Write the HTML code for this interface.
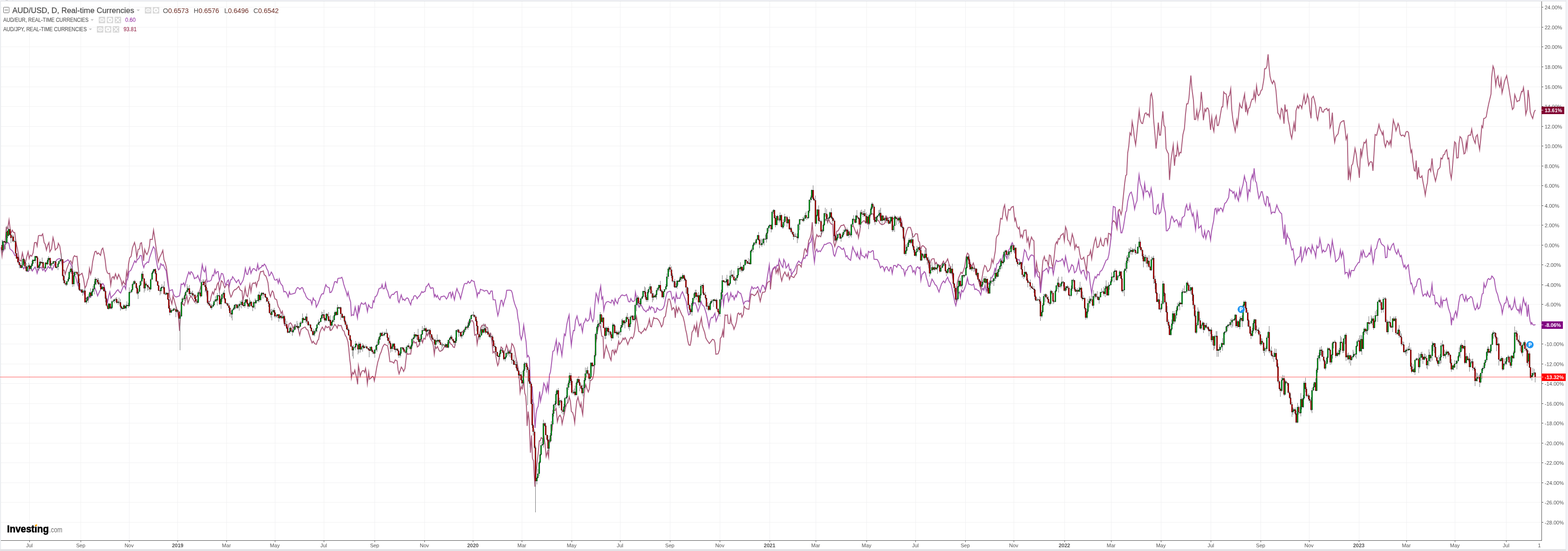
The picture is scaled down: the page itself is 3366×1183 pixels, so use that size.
<!DOCTYPE html>
<html><head><meta charset="utf-8"><title>AUD/USD chart</title>
<style>html,body{margin:0;padding:0;background:#fff;width:3366px;height:1183px;overflow:hidden}</style></head>
<body>
<svg width="3366" height="1183" viewBox="0 0 3366 1183" style="position:absolute;left:0;top:0;font-family:'Liberation Sans',Arial,sans-serif">
<rect width="3366" height="1183" fill="#fff"/>
<rect x="0" y="0" width="3366" height="2" fill="#f0f1f5"/>
<rect x="0" y="2" width="3366" height="0.9" fill="#d9dce0"/>
<rect x="0" y="0" width="1.3" height="1183" fill="#f5f6f9"/>
<rect x="1.2" y="2" width="0.8" height="1177" fill="#d8dce0"/>
<rect x="0" y="1179" width="3361" height="4" fill="#e3e3e6"/>
<rect x="3361" y="0" width="0.9" height="1183" fill="#dde0e5"/>
<rect x="3361.9" y="0" width="4.1" height="1183" fill="#f2f3f7"/>
<rect x="12" y="0" width="5" height="1" fill="#c0c0c4"/>
<rect x="27.2" y="0" width="0.8" height="2" fill="#d8dce0"/>
<path d="M2 1121.5H3308M2 1078.5H3308M2 1036.5H3308M2 993.5H3308M2 951.5H3308M2 908.5H3308M2 866.5H3308M2 823.5H3308M2 781.5H3308M2 738.5H3308M2 696.5H3308M2 653.5H3308M2 611.5H3308M2 568.5H3308M2 526.5H3308M2 483.5H3308M2 441.5H3308M2 398.5H3308M2 356.5H3308M2 313.5H3308M2 271.5H3308M2 228.5H3308M2 186.5H3308M2 143.5H3308M2 100.5H3308M2 58.5H3308M2 15.5H3308M63.5 3V1160M173.5 3V1160M277.5 3V1160M381.5 3V1160M486.5 3V1160M590.5 3V1160M695.5 3V1160M804.5 3V1160M911.5 3V1160M1015.5 3V1160M1120.5 3V1160M1227.5 3V1160M1331.5 3V1160M1438.5 3V1160M1545.5 3V1160M1652.5 3V1160M1751.5 3V1160M1860.5 3V1160M1965.5 3V1160M2072.5 3V1160M2176.5 3V1160M2285.5 3V1160M2385.5 3V1160M2492.5 3V1160M2599.5 3V1160M2706.5 3V1160M2810.5 3V1160M2917.5 3V1160M3019.5 3V1160M3123.5 3V1160M3233.5 3V1160" stroke="#f1f1f2" stroke-width="1" fill="none" shape-rendering="crispEdges"/>
<polyline points="2.4,530.8 4.4,549 7.3,523.5 10.2,533.2 13.4,488.2 16.5,490.7 19.4,472.4 23.1,501.6 26.3,494.3 29.2,499.2 31.6,499.2 34,518.6 37.7,535.6 41.3,558.7 45,559.9 48.1,542.9 51,557.5 54,567.2 57.1,552.6 60.3,540.5 62.7,555.1 65.1,547.8 68.1,550.2 71,542.9 74.1,521 77.8,520.6 79.7,528.3 82.6,506 86.3,505.2 88.7,506.5 91.6,502.1 94.8,521 96.7,523.5 99.7,536.8 102.1,527.1 105,521 107,540.5 110.6,534.4 113.8,510.1 116.2,519.8 118.6,536.8 121.5,533.2 123.5,532 125.2,522.3 128.3,528.3 131.3,547.8 133.2,566 134.9,579.4 138.1,580.6 139.8,589.1 143.4,577 145.8,570.9 149.5,561.2 151.9,559.9 155.1,567.2 157.5,552.6 159.9,549 162.4,550.9 165.3,550.2 167.2,569.7 169.7,591.5 173.1,589.1 176.2,586.7 179.4,598.8 182.3,618.3 185.2,613.4 187.7,602.5 190.1,596.4 192,577 194.5,589.1 196.4,581.8 198.8,562.4 201.3,550.2 203.7,540.5 206.1,539.3 208.6,545.4 211,542.9 213.4,545.4 215.8,548.3 218.3,535.6 220.7,532.7 223.1,542.9 225.6,557.5 228,578.2 230.4,585.5 232.9,587.9 235.3,586.7 237.7,612.2 240.2,596.4 243.1,594 245,598.8 247.9,587.9 251.6,598.8 254.7,589.1 257.7,596.4 260.1,602.5 262,612.2 264.5,603.7 266.9,608.6 269.3,611 271.8,583 274.2,596.4 275.9,567.2 278.3,553.9 281.5,550.2 284.4,532 288.8,520.6 291.2,530.8 293.6,552.6 296.5,535.6 299.5,534.4 301.4,522.3 303.8,521 306.3,540.5 308.2,559.9 310.6,535.6 313.1,542.9 315.5,546.6 318.4,539.3 320.9,528.3 322.3,513.8 326.9,514.2 329.6,494.3 331.8,508.9 334.2,525.9 336.7,542.9 339.8,562.4 342.7,552.6 346.4,545.4 349.5,537.6 352,557.5 354.9,564.8 357.3,574.5 359.7,594 362.2,615.8 364.1,637.7 366.6,645 369,652.3 371.4,635.3 374.3,645 376.8,654.7 379.2,662 381.6,671.8 383.6,683.9 385.5,710.4 387.5,676.6 389.9,654.7 391.8,651.1 395.2,656 398.6,643.8 401.1,635.3 403.5,651.1 407.1,640.2 410,635.5 418,648.7 420.6,639 427.7,628.4 431.2,614.3 438.3,608.1 441.5,601.9 443.9,631.9 446.2,646.1 449.3,648.2 451.5,646.1 453.3,636.4 456.3,626.6 458.6,631.9 461.3,620.4 463.4,622.2 466.2,610.7 468.7,606.3 471,624.9 472.8,617.8 475.1,602.8 478.1,605.4 480.4,612.5 482.5,617.8 485.7,611.6 487.8,611.1 490.4,611.6 492.2,626.6 495.7,637.8 498,633.7 500.2,626.6 503.4,622.2 506.4,621.3 509,618.7 512.5,614.6 515.2,622.2 517.9,624 519.6,624.5 521.4,646.1 524,631.9 526.3,617.8 528.8,633.7 531.6,637.2 534.1,623.1 536.4,610.7 538.7,626.6 541.2,610.7 543.5,607.5 546.1,608.6 548.3,606.3 550.6,615.1 552.9,604.5 555.3,601.9 557.1,591.3 559.4,583 562.4,583.3 565.2,581.5 567.4,590.4 570,591.6 572.3,596.6 575.3,607.2 577.1,624 578.3,630.2 580.6,636.9 582.9,628.4 584.7,624.5 586.8,627.5 588.6,636.4 590.3,641.7 593.9,643.4 595.6,651.4 597.4,658.5 600,662.2 603.6,673.2 606.1,668.3 608.5,685.3 610.9,698.7 615.1,699.9 618.2,704.8 620.7,695.1 623.8,693.1 626.7,697.5 629.2,706 632.8,697.5 636.5,701.1 640.1,706 643.3,719.4 646.2,707.2 649.8,704.8 653,702.8 655.4,702.3 657.8,707.2 660.8,708.4 663.7,718.1 666.8,727.9 670,736.4 672.4,732.7 675.3,737.6 679,739.3 682.1,730.3 683.8,729.1 686.3,714.5 688.7,708.4 691.9,702.3 696,709.6 699.1,699.9 702.1,703.6 706.4,701.1 708.9,709.6 711.8,708.4 715.4,702.3 718.6,696.3 721.5,699.9 723.9,704.8 725.9,697.5 728.8,699.4 732.4,698.7 735.6,708.4 738.5,710.9 740.9,719.4 743.9,724.2 747,733.9 748.7,748.5 750.7,770.4 752.6,785 754.3,811.7 756.7,799.6 759.2,803.2 761.6,794.7 764,804.4 766.5,816.6 767.7,825.1 769.4,785 771.3,794.7 773,808.1 775.5,799.6 777.9,795.9 781,795.9 782.7,799.6 784.7,791 786.6,802 788.6,823.9 791.5,799.6 793.2,814.1 796.4,811.7 799.3,808.1 801.7,809.3 803.6,817.8 806.1,804.4 808.5,789.8 810.9,777.7 813.9,768 815.8,760.7 818.2,755.8 821.1,746.1 823.6,741.2 826,738.8 828.9,741.2 832.1,742.4 834.5,755.8 836.9,776.5 840.1,776.5 843,777.7 845.4,779.6 848.4,772.8 850,773.4 852.5,775.1 854.6,794.4 856.7,802.8 859.4,794.4 861.5,788.1 864.3,792.3 866.4,797.5 869.3,791.2 871,776.5 873.1,757.6 875.6,760.8 878.3,759.7 881.5,760.4 883.6,747.1 885.7,738.7 888.2,732.4 890.9,736.6 893.7,734.5 895.8,745 898.7,742.9 901.4,733.5 904.2,726.1 907.1,735.6 909.8,726.1 912.6,728.2 915.5,715.6 917.6,720.9 920.3,712.5 922.4,723 925.2,729.3 928.1,733.5 930.2,741.9 932.3,760.8 934.4,744 936.5,748.2 939.2,744 942,751.3 944.5,754.5 947.6,752.8 950.4,751.3 952.9,746.1 955,742.9 957.5,746.1 960.2,745 962.3,739.8 965.1,733.5 967.6,738.7 970.1,739.8 972.8,745 975.6,746.1 978.1,733.5 980.2,710.4 984.4,712.5 988.6,714.6 994.9,710.4 1000.1,703 1003.3,704.1 1005.8,691.5 1008.5,691.1 1011.3,689 1014.2,688.3 1016.9,693.6 1019,719.8 1022.2,717.7 1024.3,738.7 1026.8,723 1029.5,718.8 1031.6,705.1 1034.4,698.8 1037.3,697.8 1040,698.8 1041.5,696.7 1043.6,703 1046.3,703 1048.4,714.6 1051.2,716.7 1053.3,715.6 1055.8,731.4 1058.3,757.6 1061,754.5 1063.8,760.8 1066.3,775.5 1068.4,784.9 1070.5,779.7 1072.6,758.7 1075.7,745 1078.5,748.2 1081,760.8 1083.5,753.4 1085.2,750.3 1087.3,740.8 1090,748.7 1092.2,756.5 1094.4,752.1 1096.2,757.6 1098.8,737.7 1101.5,741 1104.4,748.7 1107.7,768.6 1110.3,779.7 1112.5,792.9 1114.8,815 1116.5,842.7 1118.7,830.5 1121.4,834.9 1124.3,817.3 1126.5,843.8 1128.7,850.4 1130.2,874.7 1131.6,914.5 1133.8,883.6 1136,903.5 1138.7,971.9 1141,934.8 1142.9,983.5 1145.2,989.3 1146.8,1020.6 1148.5,1045 1150.8,1016 1153.1,992.8 1155.4,971.9 1157.7,946.4 1159.6,946.4 1161.9,939.4 1165.4,942.9 1167.7,937.1 1170,953.4 1172.4,980 1175.4,969.6 1177.7,981.2 1179.3,946.4 1181.6,937.1 1185.1,923.2 1188.4,879.2 1191.7,881.4 1193.9,876.9 1196.5,905.7 1199.4,894.6 1202.3,891.3 1204.9,896.8 1206.7,910.1 1209.4,896.8 1211.6,888 1214.2,874.7 1216.4,867 1219.3,864.8 1222,851.5 1224.4,861.5 1226.6,883.6 1229.3,885.8 1231.9,894.6 1233.7,907.9 1235.9,881.4 1238.1,861.5 1240.8,852.6 1243.6,865.9 1245.8,873.6 1247.4,865.9 1249.6,883.6 1250.9,890.2 1253.1,857 1255.3,834.9 1257.6,826.1 1260.2,834.9 1262.9,841.6 1265.1,834.9 1266.8,817.3 1269.5,816.2 1272.4,812.8 1274.6,801.8 1276.3,781.3 1278.5,741.5 1281.8,715 1286.2,695.1 1289.5,703.9 1291.8,721.6 1294.6,722.7 1296.2,770.2 1299,752.6 1301.3,741.5 1303.9,750.3 1307.2,759.2 1309.4,768 1311.7,773.6 1313.9,752.6 1316.1,751.4 1318.9,760.3 1320.5,751.4 1322.7,757 1325.6,747 1328.2,732.7 1330,739.3 1332.7,736 1335.3,731.5 1337.5,726 1339.7,729.3 1341.9,724.9 1344.8,730.4 1347.7,739.7 1350.3,732.7 1353,726 1355.2,723.8 1357.4,727.1 1360.3,721.6 1362.5,710.5 1364.7,688.4 1366.3,679.6 1368.5,692.9 1371.3,711.7 1374.2,712.8 1376.4,716.1 1379.1,711.7 1381.7,710.5 1383.5,705 1386.2,709.4 1389,702.8 1391.2,697.3 1394.1,685.1 1396.3,700.6 1398.5,701.7 1401.2,690.6 1403.4,681.8 1405.6,684 1408.9,683.6 1411.8,685.1 1414.5,688.4 1417.8,695.1 1420,701.8 1422.9,696.9 1425.3,682.3 1428.5,678.7 1430.9,662.9 1434.6,642.2 1437.5,642.2 1439.9,650.7 1442.4,665.3 1445.5,660.4 1448,664.1 1449.7,682.3 1451.6,659.2 1454.5,670.2 1456.9,660.4 1460.1,667.7 1463.8,676.2 1466.2,679.9 1468.6,689.6 1469.2,691.9 1471.9,707.7 1474,716.2 1476.5,732 1478.7,740.5 1481.6,741.5 1483.5,732 1485.6,713.2 1488.4,708.9 1490.5,699.2 1493.5,710.7 1495.7,694.9 1498.4,724.1 1500.2,705.3 1503,693.7 1505.7,682.2 1507.5,698.6 1510.5,707.7 1512.7,713.8 1515.1,725.3 1517.2,729.6 1522.7,737.5 1526.6,732.6 1529.4,728.4 1532.6,729.6 1534.8,735.7 1536.7,760.6 1541.5,759.7 1544.6,750.9 1546.4,726.5 1549.4,722.3 1551.6,710.1 1553.3,724.7 1554.9,698.6 1556.5,676.1 1558.5,677.1 1561.6,676.1 1563.4,694.3 1566.7,694.6 1568.6,679.1 1570.7,694.9 1573.5,699.2 1575.6,707.1 1578.8,698.6 1581,690.7 1583.5,673.6 1585.7,671.8 1587.4,675.5 1590.8,672.4 1592.6,680.9 1595.6,674.9 1597.4,657.5 1600.4,661.6 1603.5,663.3 1607.7,664.1 1610.1,644.6 1612.5,631.3 1616.4,632.5 1619.3,634.9 1623,631.3 1626.6,624 1629.5,636.1 1632,647.1 1634.4,636.1 1636.8,627.6 1640,627.6 1642.4,626.4 1644.8,616.7 1647.3,607 1650.4,604.5 1653.3,603.3 1653.8,621.5 1656.3,597.2 1658.7,580.2 1661.9,575.4 1664.3,572.9 1666,586.3 1669.1,577.8 1670.4,586.3 1672.8,570.5 1675.2,589.9 1678.1,603.3 1681.3,591.2 1684.9,583.9 1687.4,589.9 1689.8,593.6 1692.2,586.3 1694.7,599.7 1697.7,591.8 1700.7,594.1 1704.2,596 1707.7,589.5 1710,587.2 1711.7,570.9 1714.7,567.5 1717.7,569.8 1720,573.3 1721.6,561.7 1724.6,552.4 1727,536.1 1728.6,533.8 1731.6,540.8 1733.9,531.5 1736.2,516.4 1739,510.6 1741.3,502.5 1743.7,477 1745.5,508.3 1747.1,519.9 1748.8,535 1750.6,515.3 1753.4,503.7 1756.4,508.3 1758.7,506 1761.8,508.3 1764.5,499 1767.3,489.7 1769.6,478.1 1772,471.2 1775,472.3 1776.6,478.1 1778.9,470 1781.9,478.1 1785,481.6 1787.7,481.6 1789.6,518.7 1791.9,529.2 1794.2,522.2 1795.9,496.7 1799.3,495.5 1802.1,489.7 1805.8,483.9 1808.6,483.9 1811.4,482.3 1813.7,487.4 1815.6,492.1 1817.9,497.9 1822.5,503.7 1826,501.3 1828.3,487.4 1831.3,483.9 1833.7,489.7 1836.4,497.2 1838.8,502.5 1840.6,495.5 1842.9,510.6 1845.7,496.7 1847.6,479.3 1849.9,478.1 1852.7,474.7 1855.5,474 1858.5,479.3 1861.5,478.1 1864.3,481.6 1866.6,470 1868.9,459.6 1872.4,459.1 1874.7,459.6 1877,474.7 1880,466.5 1883.2,471.8 1886.6,474.5 1889.3,479.8 1893.3,482.4 1897.2,481.1 1900.7,477.1 1902.5,463.9 1906,469.2 1909.7,466.5 1914.5,470.5 1922.4,467.8 1929.1,469.2 1932.5,465.2 1935.7,474.5 1938.3,493 1941,519.6 1943.6,506.3 1946.3,495.7 1949.5,488.3 1954.3,488.3 1957.4,497 1959,508.9 1962.2,507.6 1965.4,501.5 1969.6,502.3 1971.5,516.9 1974.1,520.9 1976,538.1 1978.6,528.8 1981.3,527.5 1984.7,530.2 1987.4,534.1 1989.3,554 1991.9,556.7 1994,572.6 1996.7,564.6 1999.9,556.7 2002.5,555.4 2005.2,555.4 2007.3,567.3 2009.9,563.3 2012.6,569.9 2017.9,572.6 2021.9,567.3 2025.3,560.7 2028,567.3 2031.2,562 2034.3,555.9 2037,566 2039.6,572.6 2042.3,580.5 2044.4,591.2 2047.1,609.7 2049.7,625.6 2052.4,644.2 2053.7,625.6 2055,607.1 2057.7,596.5 2063,584.5 2065.6,587.2 2068.3,580.5 2070.9,572.6 2074.1,551.4 2076.8,543.4 2079.4,546.1 2082.1,562 2085.5,572.6 2089.5,564.6 2092.1,575.2 2095.3,589.8 2098,593.8 2101.4,605.7 2105.4,620.3 2108.1,596.5 2110.7,580.5 2113.9,569.9 2116.5,572.6 2120,583.2 2123.4,580.5 2126.6,573.9 2129.3,556.7 2131.9,564.6 2134,554 2136.7,538.1 2138.6,511.6 2140,507.3 2143.8,502.5 2148,468.9 2151.2,470.5 2154.4,446.5 2156.7,440.1 2159.2,462.5 2161.8,472.1 2165,449.7 2168.2,451.3 2171.4,444.9 2175.2,443.3 2178.4,473.7 2180.1,468.9 2183.3,486.5 2186.5,491.3 2188.1,488.1 2190.6,508.9 2192.9,504.1 2195.1,510.5 2198.3,494.5 2202.5,493.6 2204.7,518.6 2207.3,510.5 2209.8,531.4 2212.1,516.9 2214.3,508.9 2216.9,514.7 2219.5,516.9 2221.7,593.8 2224.9,563.4 2228.1,582.6 2231.3,585.8 2233.6,617.9 2236.1,592.2 2238.7,560.2 2241.9,550.6 2244.1,560.2 2247.3,558.6 2250.5,571.4 2252.8,547.4 2255.3,549 2257.9,566.6 2260.2,574.6 2263.4,547.4 2265.6,525 2268.2,519.2 2269.8,523.4 2272,512.1 2274.6,513.7 2277.1,505.7 2281,502.5 2282.6,500.9 2284.8,516.9 2287.4,487.2 2290,494.5 2292.2,515.3 2294.4,516.9 2297.6,526.6 2301.8,502.5 2305,513.7 2307.3,534.6 2309.8,525 2312.4,531.4 2315.6,529.8 2317.8,544.2 2320.1,555.4 2322.6,557 2326.5,552.2 2329.7,568.2 2332.2,582.6 2334.8,549 2338.7,547.4 2341.2,537.8 2343.5,555.4 2346.7,533 2349.9,516.9 2352.1,510.5 2355.3,531.4 2358.5,529.8 2362.7,512.1 2365.9,526.6 2369.1,528.2 2372.3,512.1 2375.5,511.5 2377.7,523.4 2379.7,500.9 2383.5,502.5 2385.1,508.9 2387.4,478.5 2390.6,473.7 2394.7,478.5 2397.9,491.3 2401.1,451.3 2403.4,449.7 2406.6,460.9 2408.5,452.9 2410.7,428.8 2413,406.4 2414.4,392.8 2416.7,376.8 2418.6,375.2 2420.8,328.7 2423.1,314.3 2425.6,285.4 2428.2,290.3 2430.4,261.4 2432.7,274.2 2435.3,296.7 2437.8,311.1 2440.1,290.3 2442.3,267.8 2445.5,237.4 2447.4,256.6 2450.6,264.6 2452.9,265.3 2455.1,255 2457.7,243.8 2460.3,242.2 2462.5,247 2464.7,244.7 2467.3,250.2 2469.9,205.3 2471.8,200.5 2474.4,214.9 2476.3,255 2479.5,290.3 2481.7,319.1 2484,296.7 2486.5,263 2489.1,290.3 2491.3,290.3 2493.6,267.8 2496.2,239 2498.7,269.4 2501,272.6 2503.2,319.1 2505.8,325.5 2508.3,330.3 2510.6,386.4 2513.8,343.1 2516,328.7 2518.6,311.1 2521.2,356 2523.4,333.5 2525.6,335.1 2527.6,309.5 2530.8,333.5 2533,327.1 2535.3,328.1 2537.2,309.5 2539.4,288.7 2542.6,275.8 2544.9,245.4 2547.4,222.9 2550,222.9 2552.2,211.7 2554.5,184.5 2556.4,162.1 2558.7,190.9 2561.9,214.9 2564.1,256.6 2566.7,256.6 2569.2,237.4 2571.5,255 2573.7,242.2 2576.3,234.2 2578.8,197.3 2581.1,221.3 2583.3,258.2 2586.5,234.2 2588.5,239 2590.7,231.9 2592.9,231.9 2594.9,237.4 2598.7,279 2601.3,251.8 2603.5,272.6 2605.8,282.2 2608.3,256.6 2610.9,248.6 2613.1,269.4 2615.4,269.4 2617.9,258.2 2620.5,242.2 2622.8,229.4 2625,229.4 2626.9,197.3 2629.2,200.5 2632.4,202.1 2634.6,227.8 2637.2,206.9 2639.4,205.3 2642,190.9 2644.2,235.8 2646.8,258.2 2649.4,271 2651.6,282.2 2654.8,258.2 2656.4,269.4 2659,245.4 2661.2,222.9 2663.5,229.4 2666,231.9 2668.6,216.5 2671.8,202.1 2674,240.6 2675.6,224.6 2678.2,243.8 2680.4,232.6 2682.7,231 2685.3,219.7 2687.8,212.7 2690.1,213.3 2692.3,197.3 2694.9,214.9 2697.4,184.5 2699.7,202.1 2701.9,205.3 2704.5,202.1 2707.1,194.1 2709.3,192.5 2711.5,179.7 2713.5,166.9 2714.7,147.6 2717.3,147.6 2719.9,141.2 2720.6,129.8 2722.2,116.6 2724.2,143.1 2726.5,164.6 2729.2,174.6 2731.5,179.6 2734.1,172.9 2736.5,177.9 2739.1,194.5 2741.4,222.7 2743.1,242.5 2745.7,245.9 2748.1,254.1 2750.7,232.6 2753,235.9 2756.4,265.7 2758.3,224.3 2760.3,239.2 2763,235.9 2765.6,259.1 2768,269.1 2770.3,287.3 2772.9,297.2 2775.6,279 2777.9,264.1 2780.2,282.3 2782.2,237.6 2785.5,227.6 2787.8,232.6 2790.2,225.3 2792.8,227.6 2794.5,232.6 2796.8,219.3 2799.4,204.4 2802.1,222.7 2804.4,217.7 2806.7,202.8 2809.4,212.7 2811.7,235.9 2814.4,254.1 2816,211 2819.3,206.7 2822,216 2824.3,227.6 2826.6,250.8 2828.6,257.5 2830.9,242.5 2833.3,229.9 2835.9,230.9 2838.2,239.9 2840.9,240.9 2843.2,235.2 2845.9,234.3 2848.2,232.6 2850.2,237.6 2853.1,234.3 2855.1,274 2857.5,267.4 2860.1,241.9 2862.4,280.7 2865.1,305.5 2867.4,293.9 2869.7,290.6 2872.4,287.3 2874.7,274 2877.3,264.1 2879.7,261.4 2882.3,259.8 2885,259.1 2887.3,275.7 2889.6,298.9 2892.3,290.6 2894.3,386.7 2896.6,363.5 2898.9,383.4 2901.5,355.2 2903.9,351.9 2906.2,337 2908.8,318.8 2911.5,332 2913.8,353.6 2916.1,361.9 2918.1,381.8 2921.1,318.8 2923.1,335.4 2925.4,320.4 2928.1,305.5 2930.4,307.2 2933,300.6 2935.4,333.7 2938,355.2 2940.7,348.6 2943,347 2945.3,348.6 2947.3,366.8 2949.6,328.7 2951.9,288.9 2955.2,290.6 2957.9,279 2960.2,267.4 2962.5,277.3 2965.2,282.3 2967.5,288.9 2969.2,283 2971.8,307.2 2974.1,315.5 2977.5,302.2 2980.1,305.5 2981.8,310.5 2984.4,302.2 2986.1,312.2 2988.4,285.6 2991,257.5 2994.4,269.1 2996.7,280.7 2999.3,272.4 3001.2,265 3003.3,270.3 3005.8,288 3008.3,291.6 3011.8,289.8 3015.4,293.3 3018.2,283.4 3020.7,282 3023.5,284.5 3026,303.9 3028.8,326.9 3030.6,322.3 3033.1,346.4 3035.9,365.8 3038,367.6 3040.1,344.6 3042.6,385.3 3045.1,358.8 3047.2,380 3050,381.1 3052.5,377.5 3055,392.4 3057.1,403 3059.6,418.9 3062.1,401.2 3064.2,392.4 3066.3,365.8 3069.1,362.3 3071.3,367.6 3074.1,340 3076.2,364.1 3079,378.2 3081.5,388.8 3084.4,376.5 3086.8,364.1 3088.9,362.3 3091.4,358.8 3093.2,339.3 3096,341.1 3098.5,332.2 3101,331.5 3103.1,324.5 3105.6,321.6 3108.1,341.1 3110.2,339.3 3113,371.1 3115.5,383.5 3118,358.8 3120.1,332.2 3122.6,304.6 3125,307.5 3127.2,339.3 3130.3,338.6 3132.1,307.5 3134.2,293.3 3137.4,296.9 3139.9,311 3142.7,330.5 3145.2,328.7 3147.7,305.7 3149.1,318.1 3151.6,291.6 3154.4,289.8 3156.9,290.5 3159.3,277.4 3161.8,293.3 3164.6,302.2 3166.8,307.5 3168.5,293.3 3171.4,289.1 3173.8,307.5 3176.3,321.6 3178.8,296.9 3180.9,270.3 3183,273.9 3185.2,254.4 3188,253.7 3190.5,250.9 3192.9,236.7 3195.8,222.6 3198.3,212 3200.7,202.1 3202.1,166 3205,141.9 3207.1,147.6 3209.2,166 3211,183.7 3212.8,169.5 3215.6,163.2 3217.7,181.9 3219.8,187.2 3222.3,171.3 3224.4,199.6 3226.9,189 3229.7,174.8 3232.2,167.8 3234.3,162.4 3236.8,176.6 3239.3,190.7 3241.8,206.7 3244.6,222.6 3246.7,235 3249.5,231.4 3251.7,203.1 3254.1,210.2 3256.6,218.3 3259.4,216.2 3261.6,216.2 3264,204.9 3266.5,196.1 3268.3,197.1 3270.4,187.9 3272.9,210.2 3275.4,245.6 3278.2,235 3280.3,193.2 3282.8,212 3284.9,240.3 3287.7,249.1 3290.2,254.4 3293.1,241 3295.9,236" fill="none" stroke="#a95878" stroke-width="2" stroke-linejoin="miter" stroke-miterlimit="10"/>
<polyline points="2.9,536.8 5.3,528.3 7.8,536.8 10.2,527.1 13.4,522.3 16.5,520.6 19,522.3 21.4,534.4 24.3,536.8 27.2,539.3 29.7,544.1 32.1,549 35.2,545.4 37.7,552.6 40.1,562.4 43.3,570.9 46.2,573.3 48.6,572.1 50.6,577 53.5,573.3 57.1,580.6 60.8,583 63.7,577 66.8,575.7 69.3,581.8 72.4,577 75.4,573.3 77.8,579.4 79.7,586.7 82.6,577 85.6,575.7 88.7,573.3 91.9,580.6 94.8,577 97.2,583 100.1,578.2 103.3,572.1 106.5,575.7 108.9,572.1 111.8,579.4 114.7,573.3 117.9,566 121.1,558.7 124,556.3 127.6,555.1 131.3,557 134.2,559.9 137.3,563.6 140.5,561.2 143.4,559.9 145.8,557.5 148.8,561.2 151.9,567.2 154.4,572.1 156.8,584.2 159.2,591.5 162.4,594 165.3,606.1 167.7,613.4 170.2,620.7 173.8,625.6 177,624.4 179.9,628 182.8,637.7 186,643.8 189.1,645 192,637.7 194.9,637.7 198.1,629.2 200.5,621.9 203.7,618.3 206.6,625.6 209.5,635.3 212.7,628 215.8,621.9 218.3,611 220.7,608.6 223.6,613.4 226.1,628 228.5,640.2 230.9,648.7 233.3,635.3 235.8,626.8 238.2,640.2 240.6,636.5 244.3,632.9 247.4,629.2 250.4,624.4 253.3,621.9 256.4,626.8 258.9,629.2 261.3,623.1 264.5,615.8 266.9,613.4 269.8,620.7 271.8,601.3 274.7,596.4 277.1,583 280.7,580.6 283.9,573.3 286.8,566 289.3,559.9 291.7,563.6 294.6,557.5 297.8,555.1 300.9,548.3 303.8,549 306.3,567.2 308.7,574.5 311.1,567.2 313.6,566 316,562.4 318.9,563.6 321.3,552.6 323.8,545.4 326.2,538.1 329.4,529.6 332.5,534.4 335,555.1 337.9,572.1 340.3,579.4 342.7,577 345.2,566 348.1,569.7 350.5,568.4 353.7,575.7 356.8,581.8 359.3,601.3 361.7,615.8 364.1,624.4 367,623.1 370,621.9 372.4,631.6 375.5,636.5 378.7,637.7 381.6,636.5 385.3,635.3 387,625.6 388.9,609.8 391.8,611 394.3,607.3 396.7,614.6 399.9,601.3 402.3,592.8 405.4,583.8 407.9,589.1 410,583.3 412.7,585.6 415,590.4 417.4,598.3 419.7,596.6 422,596.6 424.5,591.3 427.1,598.3 429.4,604.5 432.1,582.4 434.2,568.3 436.5,579.8 439.2,583.8 441.5,574.5 443.6,598.3 445,605.4 447.5,603.3 449.8,604 453.3,601.5 456.3,590.4 458.6,592.2 461.3,579.3 463.4,587.7 466.2,583.3 468.3,583 471,602.8 473.3,594.8 475.4,586.9 478.1,587.7 480.4,594.8 482.5,607.2 485.1,612.8 487.8,603.6 490.4,601 492.2,614.3 495.2,600.5 497.5,600.1 499.3,593.9 501.9,597.5 504.6,601.9 507.6,606.8 509.9,602.8 512.2,600.5 514.3,607.2 516.4,611.6 519.3,606.3 521.7,601.9 524,593 526.7,576.2 529.3,588.6 531.6,589.5 533.8,580.7 536.4,573.9 538.7,586.9 541.2,580.7 543.5,576.8 546.1,577.1 548.3,579.8 550.6,581.5 553.2,567.4 555.3,578.9 557.6,575.4 560.3,574.5 562.9,569.7 565.2,570.9 567.4,566.9 570,569.7 572.7,577.1 575.3,581.5 577.6,592.2 579.7,590.4 582.4,584.2 584.7,587.7 586.8,593 589.5,601 592.1,601.5 594.8,599.2 597.4,608.1 599.5,599.2 601.8,607.2 604.5,611.6 606.6,613.4 609.4,626.6 611.9,625.7 614.2,627.5 616.5,631.9 618.6,637.8 621.3,626.6 623,631.9 625.7,631.6 629.2,630.5 630,630.2 633.5,629.2 635.8,621.4 638.7,617.2 641.3,618.5 643.6,621.4 646.5,618.5 648.4,617.2 650.4,619.5 652.3,626.3 654.8,630.2 657.2,637 660.1,640.8 663,643.4 666.9,644.1 669.4,653.5 672.3,639.9 674.6,644.7 677.2,645.7 678.9,659.3 682,653.5 684.7,646.7 687.3,638.9 690.2,632.1 692.1,630.6 694.4,631.1 697,619.5 699.5,611.1 701.8,615.6 704.1,616.6 706.7,617.6 708.2,628.2 711.1,627.3 713.5,622.4 716,613.7 718.3,604.9 720.8,604.5 723.6,607.3 725.5,597.8 728,597.2 730.9,597.2 733.8,595.2 735.8,601.1 737.7,609.8 740.2,617.6 742.6,624.3 745.5,635 747.4,627.3 750,639.9 752.7,648.6 754.2,677.7 756.6,675.8 759.1,676.8 762.4,659.3 764.9,670.9 767.4,682.6 769.4,655.4 770.9,669 773.6,655.4 776,650 779.1,653.1 781.8,653.1 784.3,649.6 786.2,655.4 788.8,669 791.1,654.4 794,659.3 796.5,661.2 798.9,661.2 801.2,645.7 803.1,648.6 805.3,637 808.2,635.6 810.5,630.2 813.4,620.1 815.9,618.5 818.3,618.5 820.2,611.1 822.5,620.1 825.7,619.5 827.6,607.8 829.9,620.5 832.3,625.3 835.4,637 837.3,640.3 839.6,634.1 842.5,631.7 845.1,632.1 847.4,628.6 849.7,626.7 852.6,625.9 854.8,645.7 856.7,649.6 859,640.8 861.4,633.1 864.5,643.8 866.4,642.2 869.1,645.3 871.7,640.8 874.2,639.5 876.5,641.4 879,648.6 881.7,654.4 883.9,643.8 886.2,643.4 888.5,636 891.1,634.4 893.6,637 895.5,641.4 898.2,637 900.8,635 903.3,630.2 905.6,625.9 907.6,628.2 910.5,626.3 912.4,625.9 914.9,615 916.9,614.3 920.2,608.8 922.7,615.6 925,619.5 927.4,617.6 929.9,618.5 932.4,637 934.3,632.5 936.7,638.3 939,634.1 941.5,640.8 944.4,643.8 946.8,637 949.3,637 952.2,635.6 954.5,636 958.4,642.2 961.5,637 963.9,629.2 966.8,627.3 968.7,638.3 971.6,627.8 975.5,643.8 978.4,628.2 980.9,619.5 983.6,627.3 985.6,630.2 988.7,641.4 991.4,630.2 994.5,617.6 996.8,609.8 998.8,608.4 1002.3,609.2 1005,604 1007.5,607.8 1009.5,606.9 1012.4,601.4 1014.7,603.4 1017.8,604 1019.8,614.6 1022.1,622.4 1024.4,637 1026.4,628.2 1028.9,630.2 1031.4,620.9 1034.1,622.4 1036.6,622.8 1039.5,625.3 1043.4,623.4 1046.3,624.3 1048.9,630.6 1051.2,631.1 1053.7,624.7 1056.6,624.7 1058.6,643.4 1060.9,643.4 1063.2,643.8 1065.8,661.2 1068.7,677.7 1070.6,670.9 1072.9,657.3 1075.5,644.7 1077.4,644.7 1080.3,656.4 1083.2,644.7 1085.7,637.9 1087.7,623.4 1091,623 1094.9,623 1097.8,624.3 1099.7,629.2 1102,641.8 1104.6,651.5 1107.1,658.3 1109.8,665.1 1111.8,682.6 1114.3,694.2 1116.2,718.5 1119.1,729.2 1122,717.5 1124.2,698.1 1126.1,711.7 1127.9,725.3 1129.3,733.3 1131.6,766.4 1133.8,763.1 1136.4,768.6 1138.2,817.3 1140.4,828.3 1142.6,830.5 1144.2,863.7 1145.7,867 1147,892.4 1148.6,918.9 1150.8,888 1153,876.9 1155.2,872.5 1158.5,840.5 1160.3,861.5 1162.5,850.4 1164.7,842.7 1167.4,822.8 1170,828.3 1172.9,840.5 1175.1,823.9 1177.3,839.4 1179.5,805.1 1181.7,798.5 1183.9,780.8 1186.8,754.3 1189.5,752.7 1191.7,742.1 1194.3,729.9 1196.5,757.6 1198.8,744.3 1200,736 1202.7,740.4 1206.2,763.6 1208.8,741.5 1211.5,717.2 1213.7,720.5 1216.6,697.3 1219.5,684 1221.7,676.3 1223.9,715 1226.5,741.5 1228.7,721.6 1231,709.4 1233.2,709.9 1235.4,688.4 1238.7,678.5 1240.9,688.4 1243.8,699.5 1246.9,695.1 1248.6,703.9 1250.4,712.8 1252.6,695.1 1255.3,690.6 1257.5,684 1260.1,689.5 1263,688.4 1265.2,684 1267.4,665.2 1269.6,681.8 1272.5,690.6 1274.7,684 1276.9,655.3 1279.6,629.8 1281.8,635.4 1284.5,648.6 1286.7,628.7 1289.5,614.4 1291.8,642 1294,637.6 1296.2,666.3 1298.4,655.3 1301.3,649.1 1303.9,647.5 1306.6,647.5 1309.4,649.7 1311.7,650.4 1313.2,644.2 1315.4,645.3 1318.3,654.2 1320.5,641.6 1322.7,647.5 1325.6,652 1328.2,640.9 1330.4,639.8 1332.7,635.4 1335.3,633.2 1338.2,634.3 1341.5,634.9 1344.8,632.1 1347,638.7 1349.2,647.5 1352.1,648.2 1354.3,640.9 1357,646.4 1359.6,647.5 1362.5,645.3 1364.1,627.6 1366.9,642 1369.1,653.1 1372,659.7 1374.7,653.1 1376.9,655.3 1379.5,660.8 1381.7,665.2 1383.9,666.3 1386.8,669.6 1389.7,665.2 1391.9,666.3 1394.1,657.9 1396.3,664.1 1398.5,658.6 1401.2,660.8 1403.4,661.9 1405.6,671.2 1408.3,669.6 1410.5,660.8 1413.4,664.1 1416.2,665.9 1418.9,665.2 1420,665.3 1423.6,661.6 1426.1,655.6 1429.2,638.6 1432.2,627.6 1435.1,626.4 1437.5,625.2 1439.9,625.9 1443.1,642.2 1446.3,637.3 1449.2,648.8 1451.6,630 1454,641 1456.5,639.8 1459.4,641 1461.8,632.5 1465,626.4 1467.4,632.5 1470.6,641 1473,647.1 1475.4,662.9 1478.3,676.2 1481.3,673.8 1483.7,665.3 1486.1,658 1489.3,650.7 1492.4,650.2 1495.4,658 1498.3,668.9 1501.4,660.4 1505.1,647.1 1507.5,654.4 1511.2,657.5 1513.6,665.3 1516,672.6 1519.2,687.2 1522.1,703 1524.5,687.2 1527.4,681.1 1529.9,682.3 1532.3,677.4 1534.7,672.6 1537.2,689.6 1540.3,681.1 1542.8,675 1545.2,667.7 1547.6,655.6 1549.3,636.1 1551.3,632.5 1553.2,654.4 1555.6,634.9 1558.6,632.5 1561.5,628.8 1563.9,647.1 1566.3,641 1568.8,628.8 1571.2,637.3 1573.6,634.9 1576.1,643.4 1579.2,633.7 1580.9,637.3 1584.1,625.2 1587.2,628.8 1590.2,630 1593.1,639.8 1596.2,653.1 1599.4,647.1 1602.8,646.6 1605.2,645.8 1607.7,647.8 1610.8,626.4 1614,615.5 1616.9,620.3 1619.3,617.9 1623,619.1 1626.6,615.5 1629.5,621.5 1632,627.6 1634.4,619.1 1636.8,612.3 1639.3,613.8 1642.4,621.5 1644.8,611.8 1647.3,594.8 1649.7,580.2 1651.4,569.3 1653.8,602.1 1656.3,585.1 1659.4,576.6 1663.1,572.9 1665.5,577.8 1667.9,569.3 1670.4,570.5 1672.8,556.4 1675.2,563.2 1678.1,570.5 1680.6,574.1 1682.5,557.1 1685.4,563.2 1687.4,575.4 1690.3,571.7 1692.7,566.8 1695.2,580.2 1697.6,577.8 1699.1,590.6 1701.9,584.9 1704.2,582.5 1707,576.7 1710,568.6 1712.3,564 1714.7,560.5 1717.7,564 1720,565.1 1722.8,558.2 1725.6,553.5 1727.9,554.7 1730.2,547.7 1733.2,548.9 1734.8,533.8 1737.2,522.2 1740.2,519.9 1743.2,508.3 1745.5,538.5 1748.3,562.8 1750.6,540.8 1753.4,535 1755.7,540.8 1758.7,538.5 1761.1,540.3 1764.1,535 1766.9,530.3 1769.6,524.5 1772.7,525 1775.7,522.7 1778.5,521.8 1781.9,521.1 1785,524.5 1787.3,530.3 1789.6,546.6 1791.9,550.1 1794.2,543.1 1796.6,533.8 1799.3,528.7 1802.8,530.3 1805.8,533.8 1808.1,535.7 1810.9,532.7 1813.7,540.8 1816,551.2 1818.4,548.9 1820.7,554.7 1823,556.6 1826,558.9 1828.3,543.1 1830.6,530.3 1833.7,538.5 1836,541.9 1838.8,550.1 1840.6,541.9 1842.9,552.4 1845.7,556.6 1847.6,536.6 1849.9,548.9 1853.2,549.6 1856.2,553.5 1859.2,545.4 1862,553.5 1864.3,539.6 1867.1,541.9 1870.1,540.8 1872.4,538 1874.7,538.5 1876.3,556.6 1879.4,557 1880,556.7 1883.2,557.2 1886.6,563.3 1890.1,575.2 1893.3,571.3 1896.4,573.9 1898.6,581.9 1901.2,573.9 1903.9,572.6 1906.5,579.2 1908.6,581.9 1911.3,573.9 1913.1,573.9 1915.3,587.2 1918.5,569.9 1921.9,569.9 1925.1,573.9 1927.7,567.3 1930.4,569.4 1933,569.9 1936.2,576.6 1939.7,577.9 1942.3,591.2 1945,580.5 1947.6,579.2 1949.5,572.6 1952.1,571.3 1954.8,569.9 1957.4,573.9 1959.6,584.5 1962.2,580.5 1964.9,588.5 1967,575.2 1970.2,572.6 1972.8,576.6 1974.9,573.9 1976.8,601.8 1979.4,588.5 1982.1,587.2 1984,583.2 1986.6,585.8 1988.7,596.5 1991.4,604.4 1993.5,614.5 1996.1,615 1998.8,605.7 2000.7,599.1 2004.1,604.4 2007.3,611 2010.5,613.7 2013.1,620.3 2015.8,627 2018.4,617.7 2021.1,609.7 2025.3,603.1 2028.5,607.1 2031.2,600.4 2034.3,595.1 2037,603.1 2039.6,607.1 2042.3,612.4 2044.9,625.6 2047.6,638.9 2049.7,649.5 2051.8,656.1 2054.5,644.2 2056.3,630.9 2059.8,627 2061.6,638.9 2064.3,623 2067,627 2070.4,620.3 2073.6,611 2076.8,596.5 2079.4,609.7 2082.9,611 2086.8,612.4 2090,609.7 2092.7,621.6 2095.3,620.3 2098,623 2101.4,624.3 2105.4,633.1 2107.5,623 2110.2,619 2112,623 2114.7,612.4 2117.3,625.6 2120,613.7 2122.6,607.1 2125.3,604.4 2127.9,596.5 2130.6,593.8 2133.2,588.5 2135.9,576.6 2137.8,580.5 2140,566.6 2143.2,565 2147,557 2150.3,561.8 2153.5,547.4 2156,542.6 2158.6,549 2161.8,555.4 2165,537.8 2168.2,533 2170.4,526.6 2173,521.1 2175.9,528.2 2178.4,537.8 2181.7,553.8 2184.9,558.6 2187.4,557 2190.6,565 2194.5,568.2 2197,550.6 2199.3,536.2 2202.5,541 2204.7,550.6 2207.9,558.6 2211.1,550.6 2213.7,547.4 2216.9,548 2219.5,550.6 2221.7,592.2 2224.9,579.4 2227.2,592.2 2231.3,597.1 2233.6,629.1 2236.1,605.1 2238.7,582.6 2241.9,581 2245.1,577.8 2247.3,576.2 2250.5,585.8 2252.8,573 2255.3,575.6 2258.6,574.6 2261.1,589 2264.3,569.8 2267.5,558.6 2270.7,561.8 2274.6,560.2 2277.1,560.2 2280.3,555.4 2282.6,560.2 2284.8,569.8 2287.4,550.6 2290,563.4 2292.2,574.6 2294.4,584.2 2297.6,577.8 2300.8,568.2 2304,571.4 2306.6,585.8 2309.8,582.6 2312.4,574.6 2315.6,558.6 2317.8,577.8 2321,587.4 2323.3,581 2326.5,580.1 2329.7,593.8 2332.2,600.3 2334.8,582.6 2338,585.8 2340.3,608.3 2343.5,630.7 2345.7,613.1 2348.3,601.9 2350.8,593.8 2353.1,597.1 2356.3,589 2359.5,590.6 2361.7,582.6 2364.9,581 2368.1,574.6 2371.3,566.6 2374.5,558.6 2377.7,557 2380.3,547.4 2382.9,528.2 2385.1,508.9 2387.4,480.1 2389.9,443.3 2393.8,444.9 2396.3,475.3 2397.9,489.7 2400,456.7 2402,461.8 2403.8,479.6 2406.4,499.9 2408.4,499.9 2411.4,488.5 2414,472 2416.5,455.5 2418.3,452.9 2420.8,432.6 2423.4,421.2 2425.9,414.8 2428.5,412.3 2431,421.2 2433.5,433.9 2435.6,449.1 2438.1,437.7 2440.7,431.3 2442.7,398.3 2445.2,375.4 2447.8,394.5 2450.3,400.8 2452.9,411 2454.6,423.7 2457.2,394.5 2459.7,412.3 2463,409.7 2465.6,413.5 2468.1,422.4 2471.2,404.6 2474.2,425 2476.2,456.7 2479.3,458.8 2481.3,460.5 2484.4,441.5 2486.4,438.9 2488.4,459.3 2491.5,455.5 2493.5,444 2496.6,414 2498.6,444 2501.7,456.7 2503.7,495.4 2506.2,495.4 2508.8,491 2510.5,489.8 2513.1,472 2515.6,464.4 2518.2,469.4 2520.7,476.6 2523.3,473.3 2525.8,471.5 2528.3,477.1 2530.9,486 2532.7,477.1 2535.2,486 2537.7,467.4 2540.3,465.6 2542.8,463.1 2544.9,446.6 2547.4,439.5 2549.4,451.1 2552.5,450.4 2554.5,438.9 2557.1,454.2 2559.6,463.9 2561.4,458 2563.9,473.3 2566.5,492.8 2569.8,455.5 2571.5,465.6 2573.3,489.8 2575.9,487.2 2578.4,484.2 2580.9,505 2583.5,510.1 2586,496.1 2588.6,512.1 2591.1,501.2 2593.6,494.9 2595.7,496.9 2598.7,515.2 2600.8,496.9 2603.3,483.4 2605.3,474 2607.9,449.1 2610.4,447.1 2612.2,458 2614.7,447.8 2616.5,452.9 2619.8,446.6 2622.4,447.8 2624.9,454.2 2627.4,444 2629.2,436.9 2632.5,433.9 2635.1,428.8 2637.6,423.7 2639.4,405.9 2641.9,409.7 2644.5,409.7 2646.5,414.8 2649,411.5 2651.6,425 2654.1,414.8 2656.7,426.2 2658.7,431.3 2661.2,406.4 2663,419.9 2666.3,403.4 2668.1,397.8 2671.4,378 2674,389.4 2675.7,391.9 2678.3,426.2 2680.8,407.2 2683.4,411 2685.1,388.1 2688.4,375.4 2690.2,384.3 2692.2,361.4 2694.8,387.6 2697.3,392.7 2699.9,411 2702.4,426.2 2705,419.9 2707.5,411.5 2709.5,411.5 2712.1,423.7 2714.6,436.4 2717.2,441.5 2719.7,421.7 2722.2,423.7 2724,442 2725.8,437.7 2729.1,458.8 2731.6,455.5 2734.2,455.5 2736.7,456.7 2739.3,446.6 2741,440.2 2743.6,447.8 2746.1,452.9 2748.7,456.7 2751.2,458.8 2753.7,487.2 2756.3,512.6 2758.3,482.1 2760.4,525.3 2762.9,502.5 2765.4,510.1 2768,512.6 2770.5,525.3 2773.1,536.8 2775.6,534.2 2778.1,550.8 2780.4,567.3 2782.5,558.4 2785,555.8 2787.5,552 2790.1,550.8 2792.6,529.2 2794.4,560.9 2797,553.3 2799.5,540.6 2802,531.7 2804.1,546.2 2806.6,535.5 2809.1,531.7 2812.2,535.5 2814.7,543.1 2816.8,526.6 2819.3,535.5 2821.9,540.1 2824.4,552 2826.9,527.9 2829,532.5 2831.5,529.2 2833.3,512.6 2835.8,525.3 2838.4,541.9 2840.9,536.8 2843.5,540.6 2846,539.3 2848.5,533 2851.1,524.1 2853.6,526.6 2856.2,548.2 2858.7,527.9 2860,516.5 2862.4,531.8 2865,543.3 2867.3,562 2870.2,559.1 2873,556.2 2875,551.9 2877.3,537 2879.6,551.9 2882.2,540.4 2884.2,549.1 2886,570.6 2887.4,587.8 2889.4,585 2892.3,585 2894.6,595 2896.6,580.7 2898.9,592.1 2900.9,580.7 2903.8,580.7 2906.6,581.2 2909.5,573.5 2912.4,569.2 2916.1,563.4 2918.1,563.4 2919.9,551.9 2921.9,540.4 2923.9,551.4 2926.2,537.6 2928.5,543.3 2930.5,551.4 2933.4,551.9 2936.2,549.1 2939.1,543.3 2941.1,546.2 2943.4,530.4 2945.7,549.1 2947.7,564.9 2949.7,554.8 2952,536.1 2954.9,533.3 2957.2,521.8 2960.1,513.1 2962.1,512.3 2964.1,520.3 2966.4,524.6 2969.3,526.6 2972.1,529.5 2974.2,553.4 2977.3,552.5 2979.3,528.4 2981.3,535.3 2984.2,537 2986.5,530.4 2988.8,525.5 2991.4,522.6 2993.7,533.3 2995.7,540.4 2998.6,545.6 3001.4,536.1 3003.2,543.3 3006,551.4 3008.1,548.5 3010.1,559.1 3012.4,569.2 3013.8,573.5 3015.8,569.2 3018.1,577.2 3021,571.5 3023.3,568.6 3025.3,586.4 3027.3,600.8 3028.7,609.4 3030.2,607.9 3033,618 3035.3,629.5 3037.4,616.6 3040.2,614.6 3042.5,603.6 3044.5,599.3 3046.8,597.9 3049.1,600.8 3051.1,616.6 3053.2,629.5 3054.9,635.8 3057.8,631.8 3059.8,630.9 3062.1,635.2 3064.1,626 3066.4,633.8 3069.2,638.1 3071.3,632.4 3074.1,610.8 3076.1,633.8 3079,633.8 3081.3,653 3083.6,649 3086.2,651 3088.5,655.9 3091.4,659.7 3093.4,641 3095.7,656.8 3097.7,644.4 3100.6,645.3 3102.9,645.3 3105.2,640.4 3107.2,651 3109.2,661.1 3111.5,668.3 3113.5,674 3115.8,698.4 3117.2,682.6 3120.1,686.9 3122.1,675.5 3125,668.3 3127.3,679.8 3129.6,665.4 3131.6,649.6 3134.5,634.7 3137.3,632.4 3139.6,631.8 3141.6,640.4 3144.5,646.7 3146.8,635.2 3149.4,646.7 3151.7,641 3154,641 3156.6,636.7 3158.9,637.5 3160.9,641 3163.2,653 3165.2,661.1 3166.9,665.4 3169.5,660.5 3171.2,653 3173.2,663.4 3176.1,661.1 3178.4,652.5 3180.4,638.1 3181.9,630.9 3183.9,630.1 3185.6,608.8 3188.2,617.4 3190.5,612.3 3193.3,600.2 3195.6,597.9 3197.7,600.2 3200.5,598.5 3202.5,592.7 3204.8,595 3207.7,599.3 3210,615.1 3212,625.2 3214.9,632.4 3217.8,645.3 3220.6,651.9 3222.6,656.8 3224.9,673.2 3227.2,661.1 3229.8,651 3232.7,650.2 3234.4,638.1 3237,646.7 3239.3,659.7 3241.3,655.3 3244.5,665.4 3246.5,663.4 3249.4,655.3 3251.4,641.6 3253.7,656.8 3256,664 3258,666.3 3259.4,664.5 3261.4,671.1 3263.4,656.8 3265.7,672.6 3268,655.3 3270.3,640.4 3272.3,649.6 3274.4,655.3 3275.8,651 3278.7,679.8 3280.7,653.9 3282.4,672.6 3284.7,689.8 3286.7,696.1 3288.1,692.7 3290.4,697 3292.5,697.9 3296.2,697" fill="none" stroke="#a758b0" stroke-width="2" stroke-linejoin="miter" stroke-miterlimit="10"/>
<g shape-rendering="crispEdges">
<path d="M4 515h1v27h-1zM6 515h1v27h-1zM9 517h1v4h-1zM11 512h1v23h-1zM14 485h1v39h-1zM16 494h1v17h-1zM18 489h1v19h-1zM21 490h1v15h-1zM23 502h1v20h-1zM26 504h1v15h-1zM28 504h1v17h-1zM31 515h1v5h-1zM33 514h1v31h-1zM35 544h1v12h-1zM38 551h1v15h-1zM41 561h1v15h-1zM44 565h1v11h-1zM46 558h1v18h-1zM49 554h1v21h-1zM51 555h1v12h-1zM53 558h1v17h-1zM56 565h1v19h-1zM58 570h1v14h-1zM61 564h1v18h-1zM63 567h1v14h-1zM66 570h1v11h-1zM68 560h1v13h-1zM70 556h1v14h-1zM73 557h1v4h-1zM75 549h1v16h-1zM78 549h1v5h-1zM80 550h1v31h-1zM83 567h1v14h-1zM85 557h1v19h-1zM87 561h1v6h-1zM90 553h1v13h-1zM92 562h1v15h-1zM95 572h1v7h-1zM97 562h1v15h-1zM100 561h1v8h-1zM102 554h1v16h-1zM104 550h1v12h-1zM107 553h1v24h-1zM109 560h1v16h-1zM112 564h1v6h-1zM114 560h1v7h-1zM117 560h1v4h-1zM119 560h1v15h-1zM121 572h1v5h-1zM124 566h1v14h-1zM126 559h1v9h-1zM129 556h1v6h-1zM131 544h1v17h-1zM134 556h1v38h-1zM136 590h1v18h-1zM138 593h1v18h-1zM141 607h1v7h-1zM143 603h1v11h-1zM146 595h1v11h-1zM148 581h1v19h-1zM151 572h1v15h-1zM153 575h1v13h-1zM155 569h1v47h-1zM158 585h1v30h-1zM160 581h1v12h-1zM163 583h1v3h-1zM165 583h1v10h-1zM168 580h1v41h-1zM170 598h1v27h-1zM172 620h1v5h-1zM175 620h1v9h-1zM177 621h1v14h-1zM180 621h1v8h-1zM182 619h1v31h-1zM185 639h1v14h-1zM187 636h1v10h-1zM189 632h1v18h-1zM192 626h1v13h-1zM194 619h1v21h-1zM197 624h1v12h-1zM199 614h1v13h-1zM202 604h1v28h-1zM204 595h1v17h-1zM206 598h1v14h-1zM209 597h1v12h-1zM211 597h1v15h-1zM214 602h1v14h-1zM216 607h1v15h-1zM219 614h1v8h-1zM221 615h1v10h-1zM223 615h1v12h-1zM226 622h1v27h-1zM228 638h1v21h-1zM231 653h1v11h-1zM233 650h1v15h-1zM236 651h1v13h-1zM238 658h1v6h-1zM240 644h1v20h-1zM243 643h1v6h-1zM245 641h1v10h-1zM248 639h1v9h-1zM250 638h1v14h-1zM253 645h1v9h-1zM255 639h1v14h-1zM258 642h1v25h-1zM260 656h1v8h-1zM262 660h1v5h-1zM265 653h1v11h-1zM267 654h1v9h-1zM270 653h1v14h-1zM272 647h1v11h-1zM275 650h1v11h-1zM277 617h1v42h-1zM279 624h1v6h-1zM282 621h1v8h-1zM284 607h1v17h-1zM287 602h1v10h-1zM289 601h1v9h-1zM292 607h1v13h-1zM294 614h1v19h-1zM296 621h1v21h-1zM299 612h1v16h-1zM301 602h1v12h-1zM304 585h1v26h-1zM306 582h1v18h-1zM309 597h1v31h-1zM311 605h1v19h-1zM313 604h1v10h-1zM316 611h1v13h-1zM318 611h1v12h-1zM321 616h1v11h-1zM323 597h1v26h-1zM326 584h1v17h-1zM328 579h1v9h-1zM330 577h1v7h-1zM333 576h1v13h-1zM335 582h1v24h-1zM338 602h1v12h-1zM340 612h1v13h-1zM343 622h1v12h-1zM345 616h1v15h-1zM347 610h1v10h-1zM350 613h1v8h-1zM352 604h1v29h-1zM355 627h1v7h-1zM357 627h1v6h-1zM360 628h1v16h-1zM362 642h1v21h-1zM364 656h1v21h-1zM367 662h1v10h-1zM369 664h1v5h-1zM372 661h1v7h-1zM374 661h1v5h-1zM377 654h1v27h-1zM379 663h1v8h-1zM381 664h1v6h-1zM384 667h1v20h-1zM386 676h1v76h-1zM389 647h1v33h-1zM391 638h1v12h-1zM394 637h1v8h-1zM396 630h1v16h-1zM398 625h1v11h-1zM401 610h1v19h-1zM403 615h1v12h-1zM406 612h1v23h-1zM408 625h1v12h-1zM411 626h1v7h-1zM413 624h1v13h-1zM415 629h1v9h-1zM418 632h1v12h-1zM420 641h1v12h-1zM423 643h1v10h-1zM425 625h1v25h-1zM428 623h1v11h-1zM430 626h1v13h-1zM432 602h1v35h-1zM435 600h1v7h-1zM437 600h1v13h-1zM440 607h1v20h-1zM442 613h1v15h-1zM445 619h1v35h-1zM447 649h1v5h-1zM449 647h1v11h-1zM452 652h1v10h-1zM454 653h1v12h-1zM457 651h1v8h-1zM459 644h1v12h-1zM462 636h1v12h-1zM464 642h1v6h-1zM466 629h1v27h-1zM469 633h1v4h-1zM471 626h1v29h-1zM474 639h1v24h-1zM476 631h1v17h-1zM479 626h1v13h-1zM481 622h1v22h-1zM483 640h1v12h-1zM486 649h1v5h-1zM488 650h1v8h-1zM491 651h1v16h-1zM493 660h1v20h-1zM496 667h1v16h-1zM498 663h1v25h-1zM501 659h1v8h-1zM503 654h1v10h-1zM505 652h1v12h-1zM508 652h1v11h-1zM510 654h1v9h-1zM513 651h1v16h-1zM515 646h1v14h-1zM518 644h1v18h-1zM520 644h1v12h-1zM522 650h1v9h-1zM525 644h1v17h-1zM527 642h1v8h-1zM530 641h1v13h-1zM532 650h1v13h-1zM535 639h1v21h-1zM537 644h1v9h-1zM539 647h1v12h-1zM542 656h1v12h-1zM544 646h1v16h-1zM547 641h1v23h-1zM549 642h1v10h-1zM552 644h1v3h-1zM554 631h1v18h-1zM556 626h1v23h-1zM559 631h1v16h-1zM561 627h1v8h-1zM564 627h1v14h-1zM566 628h1v7h-1zM569 630h1v10h-1zM571 636h1v13h-1zM573 638h1v10h-1zM576 642h1v17h-1zM578 651h1v23h-1zM581 664h1v18h-1zM583 663h1v25h-1zM586 664h1v6h-1zM588 661h1v19h-1zM590 666h1v17h-1zM593 675h1v7h-1zM595 674h1v9h-1zM598 674h1v17h-1zM600 674h1v11h-1zM603 674h1v12h-1zM605 681h1v3h-1zM607 677h1v8h-1zM610 676h1v19h-1zM612 684h1v16h-1zM615 689h1v18h-1zM617 703h1v13h-1zM620 710h1v5h-1zM622 701h1v15h-1zM624 701h1v12h-1zM627 707h1v14h-1zM629 706h1v9h-1zM632 697h1v13h-1zM634 696h1v11h-1zM637 689h1v15h-1zM639 694h1v11h-1zM641 700h1v9h-1zM644 690h1v13h-1zM646 690h1v7h-1zM649 673h1v22h-1zM651 681h1v7h-1zM654 684h1v4h-1zM656 678h1v15h-1zM658 673h1v22h-1zM661 688h1v12h-1zM663 693h1v6h-1zM666 695h1v11h-1zM668 703h1v9h-1zM671 709h1v12h-1zM673 706h1v15h-1zM675 709h1v13h-1zM678 704h1v10h-1zM680 695h1v18h-1zM683 686h1v12h-1zM685 689h1v10h-1zM688 682h1v10h-1zM690 669h1v16h-1zM692 670h1v15h-1zM695 665h1v22h-1zM697 682h1v10h-1zM700 672h1v18h-1zM702 673h1v11h-1zM705 670h1v20h-1zM707 685h1v7h-1zM709 677h1v32h-1zM712 689h1v13h-1zM714 679h1v13h-1zM717 671h1v21h-1zM719 667h1v12h-1zM722 668h1v10h-1zM724 654h1v23h-1zM726 658h1v5h-1zM729 659h1v6h-1zM731 658h1v29h-1zM734 672h1v11h-1zM736 677h1v8h-1zM739 677h1v16h-1zM741 687h1v14h-1zM744 693h1v15h-1zM746 701h1v9h-1zM748 704h1v17h-1zM751 718h1v14h-1zM753 727h1v19h-1zM756 742h1v23h-1zM758 741h1v29h-1zM761 744h1v5h-1zM763 732h1v20h-1zM765 736h1v6h-1zM768 740h1v21h-1zM770 734h1v24h-1zM773 735h1v22h-1zM775 743h1v9h-1zM778 737h1v18h-1zM780 739h1v10h-1zM782 743h1v5h-1zM785 740h1v6h-1zM787 743h1v7h-1zM790 747h1v4h-1zM792 744h1v23h-1zM795 744h1v10h-1zM797 743h1v12h-1zM799 750h1v10h-1zM802 753h1v8h-1zM804 749h1v19h-1zM807 740h1v14h-1zM809 733h1v22h-1zM812 725h1v16h-1zM814 722h1v15h-1zM816 713h1v17h-1zM819 713h1v9h-1zM821 712h1v10h-1zM824 713h1v9h-1zM826 712h1v6h-1zM829 706h1v11h-1zM831 713h1v18h-1zM833 724h1v17h-1zM836 720h1v20h-1zM838 735h1v22h-1zM841 740h1v15h-1zM843 736h1v13h-1zM846 736h1v16h-1zM848 743h1v14h-1zM850 747h1v7h-1zM853 747h1v7h-1zM855 752h1v16h-1zM858 755h1v13h-1zM860 745h1v20h-1zM863 745h1v6h-1zM865 745h1v7h-1zM867 746h1v12h-1zM870 751h1v9h-1zM872 742h1v18h-1zM875 740h1v11h-1zM877 737h1v11h-1zM880 744h1v8h-1zM882 739h1v11h-1zM884 726h1v19h-1zM887 724h1v9h-1zM889 713h1v15h-1zM892 717h1v8h-1zM894 718h1v11h-1zM897 706h1v29h-1zM899 724h1v11h-1zM901 718h1v24h-1zM904 717h1v17h-1zM906 700h1v19h-1zM909 704h1v7h-1zM911 698h1v13h-1zM914 702h1v18h-1zM916 708h1v6h-1zM918 707h1v4h-1zM921 707h1v11h-1zM923 705h1v21h-1zM926 717h1v11h-1zM928 721h1v10h-1zM931 725h1v12h-1zM933 729h1v24h-1zM935 727h1v15h-1zM938 718h1v18h-1zM940 728h1v10h-1zM943 728h1v8h-1zM945 730h1v11h-1zM948 736h1v18h-1zM950 736h1v9h-1zM952 739h1v3h-1zM955 737h1v9h-1zM957 738h1v7h-1zM960 735h1v12h-1zM962 729h1v19h-1zM965 724h1v9h-1zM967 720h1v7h-1zM969 719h1v12h-1zM972 727h1v7h-1zM974 731h1v9h-1zM977 725h1v17h-1zM979 708h1v28h-1zM982 706h1v7h-1zM984 706h1v17h-1zM987 712h1v10h-1zM989 712h1v13h-1zM991 718h1v9h-1zM994 712h1v10h-1zM996 707h1v9h-1zM999 699h1v13h-1zM1001 700h1v4h-1zM1004 692h1v16h-1zM1006 688h1v16h-1zM1008 682h1v17h-1zM1011 676h1v11h-1zM1013 675h1v4h-1zM1016 669h1v12h-1zM1018 675h1v8h-1zM1021 677h1v14h-1zM1023 685h1v26h-1zM1025 699h1v21h-1zM1028 717h1v12h-1zM1030 710h1v19h-1zM1033 705h1v16h-1zM1035 699h1v18h-1zM1038 694h1v22h-1zM1040 698h1v13h-1zM1042 700h1v17h-1zM1045 710h1v5h-1zM1047 704h1v15h-1zM1050 717h1v8h-1zM1052 714h1v12h-1zM1055 722h1v2h-1zM1057 719h1v16h-1zM1059 730h1v17h-1zM1062 737h1v15h-1zM1064 744h1v19h-1zM1067 755h1v10h-1zM1069 763h1v4h-1zM1072 753h1v19h-1zM1074 747h1v14h-1zM1076 750h1v4h-1zM1079 747h1v11h-1zM1081 754h1v20h-1zM1084 765h1v11h-1zM1086 755h1v14h-1zM1089 750h1v14h-1zM1091 754h1v8h-1zM1093 752h1v14h-1zM1096 756h1v12h-1zM1098 757h1v24h-1zM1101 771h1v12h-1zM1103 762h1v22h-1zM1106 773h1v11h-1zM1108 777h1v16h-1zM1110 777h1v21h-1zM1113 794h1v19h-1zM1115 800h1v8h-1zM1118 798h1v19h-1zM1120 807h1v23h-1zM1123 793h1v33h-1zM1125 777h1v31h-1zM1127 778h1v15h-1zM1130 777h1v23h-1zM1132 784h1v86h-1zM1135 790h1v33h-1zM1137 811h1v21h-1zM1140 821h1v47h-1zM1142 857h1v62h-1zM1144 910h1v25h-1zM1147 922h1v41h-1zM1149 957h1v143h-1zM1152 1023h1v17h-1zM1154 1007h1v20h-1zM1157 990h1v32h-1zM1159 975h1v20h-1zM1161 949h1v29h-1zM1164 941h1v16h-1zM1166 901h1v60h-1zM1169 906h1v10h-1zM1171 908h1v27h-1zM1174 933h1v14h-1zM1176 935h1v34h-1zM1178 944h1v24h-1zM1181 930h1v21h-1zM1183 904h1v43h-1zM1186 880h1v35h-1zM1188 867h1v27h-1zM1191 861h1v17h-1zM1193 840h1v33h-1zM1195 835h1v13h-1zM1198 833h1v39h-1zM1200 854h1v22h-1zM1203 858h1v7h-1zM1205 858h1v29h-1zM1208 878h1v12h-1zM1210 867h1v24h-1zM1212 852h1v25h-1zM1215 849h1v8h-1zM1217 825h1v41h-1zM1220 817h1v20h-1zM1222 800h1v26h-1zM1225 801h1v26h-1zM1227 814h1v32h-1zM1230 837h1v10h-1zM1232 834h1v11h-1zM1234 828h1v23h-1zM1237 819h1v30h-1zM1239 811h1v15h-1zM1242 808h1v16h-1zM1244 815h1v25h-1zM1247 824h1v12h-1zM1249 827h1v20h-1zM1251 826h1v25h-1zM1254 811h1v25h-1zM1256 789h1v30h-1zM1259 790h1v20h-1zM1261 787h1v18h-1zM1264 800h1v17h-1zM1266 808h1v13h-1zM1268 777h1v36h-1zM1271 777h1v12h-1zM1273 783h1v4h-1zM1276 762h1v25h-1zM1278 714h1v52h-1zM1281 699h1v29h-1zM1283 687h1v16h-1zM1285 693h1v10h-1zM1288 670h1v26h-1zM1290 674h1v29h-1zM1293 677h1v16h-1zM1295 681h1v24h-1zM1298 702h1v26h-1zM1300 701h1v27h-1zM1302 702h1v18h-1zM1305 700h1v19h-1zM1307 705h1v16h-1zM1310 710h1v13h-1zM1312 714h1v18h-1zM1315 693h1v35h-1zM1317 695h1v6h-1zM1319 696h1v20h-1zM1322 710h1v6h-1zM1324 710h1v12h-1zM1327 710h1v16h-1zM1329 710h1v8h-1zM1332 698h1v22h-1zM1334 685h1v19h-1zM1336 684h1v18h-1zM1339 688h1v10h-1zM1341 686h1v19h-1zM1344 678h1v16h-1zM1346 672h1v14h-1zM1349 680h1v26h-1zM1351 694h1v16h-1zM1353 677h1v25h-1zM1356 677h1v6h-1zM1358 676h1v15h-1zM1361 677h1v12h-1zM1363 652h1v34h-1zM1366 638h1v30h-1zM1368 634h1v13h-1zM1370 636h1v19h-1zM1373 646h1v13h-1zM1375 640h1v18h-1zM1378 636h1v7h-1zM1380 624h1v15h-1zM1383 615h1v16h-1zM1385 617h1v25h-1zM1387 634h1v14h-1zM1390 622h1v26h-1zM1392 617h1v13h-1zM1395 609h1v13h-1zM1397 614h1v17h-1zM1400 624h1v25h-1zM1402 629h1v16h-1zM1404 632h1v7h-1zM1407 631h1v9h-1zM1409 619h1v24h-1zM1412 617h1v9h-1zM1414 611h1v9h-1zM1417 603h1v23h-1zM1419 621h1v7h-1zM1421 622h1v18h-1zM1424 625h1v17h-1zM1426 621h1v6h-1zM1429 610h1v13h-1zM1431 587h1v29h-1zM1434 577h1v22h-1zM1436 572h1v11h-1zM1438 568h1v16h-1zM1441 572h1v25h-1zM1443 587h1v20h-1zM1446 602h1v14h-1zM1448 599h1v19h-1zM1451 608h1v10h-1zM1453 601h1v19h-1zM1455 602h1v10h-1zM1458 598h1v8h-1zM1460 592h1v13h-1zM1463 593h1v11h-1zM1465 587h1v13h-1zM1468 589h1v15h-1zM1470 594h1v9h-1zM1472 600h1v30h-1zM1475 615h1v20h-1zM1477 618h1v44h-1zM1480 652h1v21h-1zM1482 662h1v13h-1zM1485 647h1v31h-1zM1487 639h1v14h-1zM1490 627h1v17h-1zM1492 622h1v16h-1zM1494 622h1v22h-1zM1497 630h1v9h-1zM1499 627h1v29h-1zM1502 631h1v20h-1zM1504 610h1v30h-1zM1507 611h1v8h-1zM1509 608h1v26h-1zM1511 627h1v7h-1zM1514 627h1v16h-1zM1516 639h1v25h-1zM1519 649h1v17h-1zM1521 654h1v14h-1zM1524 647h1v20h-1zM1526 643h1v10h-1zM1528 643h1v7h-1zM1531 642h1v17h-1zM1533 641h1v6h-1zM1536 642h1v7h-1zM1538 641h1v25h-1zM1541 662h1v9h-1zM1543 667h1v10h-1zM1545 641h1v39h-1zM1548 622h1v28h-1zM1550 591h1v39h-1zM1553 601h1v5h-1zM1555 603h1v4h-1zM1558 597h1v12h-1zM1560 590h1v23h-1zM1562 599h1v18h-1zM1565 607h1v7h-1zM1567 581h1v30h-1zM1570 579h1v18h-1zM1572 588h1v9h-1zM1575 581h1v22h-1zM1577 600h1v4h-1zM1579 595h1v16h-1zM1582 590h1v13h-1zM1584 571h1v24h-1zM1587 575h1v8h-1zM1589 563h1v20h-1zM1592 571h1v14h-1zM1594 574h1v9h-1zM1596 568h1v14h-1zM1599 557h1v14h-1zM1601 557h1v9h-1zM1604 560h1v6h-1zM1606 554h1v13h-1zM1609 556h1v12h-1zM1611 537h1v31h-1zM1613 532h1v10h-1zM1616 524h1v18h-1zM1618 520h1v8h-1zM1621 517h1v9h-1zM1623 512h1v13h-1zM1626 504h1v12h-1zM1628 498h1v19h-1zM1630 513h1v20h-1zM1633 512h1v15h-1zM1635 514h1v16h-1zM1638 511h1v14h-1zM1640 511h1v16h-1zM1643 504h1v11h-1zM1645 499h1v22h-1zM1647 488h1v26h-1zM1650 484h1v13h-1zM1652 481h1v6h-1zM1655 482h1v17h-1zM1657 452h1v42h-1zM1660 449h1v10h-1zM1662 450h1v19h-1zM1664 462h1v26h-1zM1667 463h1v21h-1zM1669 461h1v13h-1zM1672 468h1v10h-1zM1674 456h1v20h-1zM1677 460h1v28h-1zM1679 482h1v9h-1zM1681 471h1v20h-1zM1684 459h1v26h-1zM1686 465h1v10h-1zM1689 463h1v24h-1zM1691 469h1v12h-1zM1694 465h1v29h-1zM1696 488h1v6h-1zM1698 487h1v14h-1zM1701 495h1v9h-1zM1703 498h1v17h-1zM1706 500h1v10h-1zM1708 502h1v7h-1zM1711 501h1v21h-1zM1713 479h1v35h-1zM1716 470h1v24h-1zM1718 470h1v3h-1zM1720 470h1v3h-1zM1723 466h1v10h-1zM1725 465h1v12h-1zM1728 457h1v13h-1zM1730 454h1v18h-1zM1733 466h1v5h-1zM1735 452h1v18h-1zM1737 428h1v29h-1zM1740 420h1v15h-1zM1742 407h1v23h-1zM1745 398h1v31h-1zM1747 424h1v8h-1zM1750 420h1v66h-1zM1752 461h1v21h-1zM1754 448h1v17h-1zM1757 441h1v40h-1zM1759 467h1v9h-1zM1762 472h1v36h-1zM1764 493h1v8h-1zM1767 480h1v19h-1zM1769 457h1v28h-1zM1771 446h1v19h-1zM1774 449h1v25h-1zM1776 461h1v17h-1zM1779 465h1v9h-1zM1781 454h1v16h-1zM1784 447h1v24h-1zM1786 464h1v16h-1zM1788 467h1v9h-1zM1791 471h1v47h-1zM1793 504h1v14h-1zM1796 509h1v11h-1zM1798 502h1v11h-1zM1801 499h1v6h-1zM1803 500h1v13h-1zM1805 506h1v13h-1zM1808 500h1v11h-1zM1810 493h1v14h-1zM1813 491h1v11h-1zM1815 491h1v5h-1zM1818 489h1v19h-1zM1820 493h1v14h-1zM1822 494h1v17h-1zM1825 500h1v8h-1zM1827 480h1v30h-1zM1830 469h1v14h-1zM1832 462h1v12h-1zM1835 470h1v10h-1zM1837 461h1v18h-1zM1839 451h1v21h-1zM1842 465h1v6h-1zM1844 467h1v19h-1zM1847 452h1v37h-1zM1849 450h1v12h-1zM1852 453h1v13h-1zM1854 453h1v11h-1zM1856 449h1v16h-1zM1859 456h1v23h-1zM1861 460h1v22h-1zM1864 462h1v30h-1zM1866 457h1v26h-1zM1869 444h1v19h-1zM1871 435h1v16h-1zM1873 435h1v12h-1zM1876 441h1v33h-1zM1878 466h1v17h-1zM1881 465h1v13h-1zM1883 462h1v8h-1zM1886 451h1v14h-1zM1888 450h1v17h-1zM1890 446h1v30h-1zM1893 460h1v23h-1zM1895 462h1v12h-1zM1898 466h1v10h-1zM1900 463h1v10h-1zM1903 465h1v14h-1zM1905 469h1v8h-1zM1907 468h1v14h-1zM1910 472h1v9h-1zM1912 464h1v14h-1zM1915 463h1v35h-1zM1917 482h1v15h-1zM1920 461h1v37h-1zM1922 463h1v8h-1zM1924 466h1v17h-1zM1927 464h1v12h-1zM1929 467h1v14h-1zM1932 463h1v22h-1zM1934 476h1v13h-1zM1937 485h1v7h-1zM1939 487h1v29h-1zM1941 508h1v39h-1zM1944 525h1v24h-1zM1946 524h1v16h-1zM1949 517h1v14h-1zM1951 511h1v15h-1zM1954 513h1v11h-1zM1956 510h1v14h-1zM1959 501h1v32h-1zM1961 527h1v15h-1zM1963 535h1v15h-1zM1966 540h1v12h-1zM1968 528h1v14h-1zM1971 531h1v9h-1zM1973 529h1v13h-1zM1976 535h1v26h-1zM1978 543h1v17h-1zM1980 543h1v9h-1zM1983 546h1v9h-1zM1985 537h1v21h-1zM1988 533h1v23h-1zM1990 552h1v16h-1zM1993 551h1v15h-1zM1995 556h1v38h-1zM1997 568h1v22h-1zM2000 563h1v18h-1zM2002 571h1v13h-1zM2005 572h1v9h-1zM2007 566h1v15h-1zM2010 574h1v6h-1zM2012 566h1v22h-1zM2014 567h1v7h-1zM2017 568h1v18h-1zM2019 574h1v10h-1zM2022 569h1v7h-1zM2024 564h1v9h-1zM2027 565h1v6h-1zM2029 562h1v21h-1zM2031 580h1v13h-1zM2034 577h1v12h-1zM2036 568h1v16h-1zM2039 574h1v14h-1zM2041 571h1v17h-1zM2044 566h1v24h-1zM2046 585h1v26h-1zM2048 607h1v19h-1zM2051 614h1v31h-1zM2053 640h1v7h-1zM2056 614h1v31h-1zM2058 600h1v17h-1zM2061 597h1v20h-1zM2063 610h1v6h-1zM2065 590h1v30h-1zM2068 589h1v8h-1zM2070 589h1v7h-1zM2073 573h1v19h-1zM2075 549h1v28h-1zM2078 549h1v11h-1zM2080 548h1v25h-1zM2082 566h1v14h-1zM2085 572h1v10h-1zM2087 570h1v11h-1zM2090 574h1v10h-1zM2092 573h1v8h-1zM2095 575h1v16h-1zM2097 577h1v18h-1zM2099 585h1v16h-1zM2102 598h1v8h-1zM2104 602h1v14h-1zM2107 610h1v12h-1zM2109 601h1v15h-1zM2112 593h1v14h-1zM2114 597h1v17h-1zM2116 593h1v16h-1zM2119 598h1v28h-1zM2121 614h1v17h-1zM2124 602h1v29h-1zM2126 594h1v19h-1zM2129 601h1v9h-1zM2131 596h1v10h-1zM2133 597h1v17h-1zM2136 581h1v22h-1zM2138 579h1v19h-1zM2141 579h1v17h-1zM2143 575h1v19h-1zM2146 570h1v13h-1zM2148 554h1v19h-1zM2150 557h1v20h-1zM2153 558h1v10h-1zM2155 538h1v26h-1zM2158 536h1v7h-1zM2160 536h1v16h-1zM2163 541h1v8h-1zM2165 538h1v18h-1zM2167 538h1v11h-1zM2170 527h1v18h-1zM2172 523h1v11h-1zM2175 525h1v16h-1zM2177 526h1v18h-1zM2180 531h1v26h-1zM2182 554h1v10h-1zM2184 560h1v12h-1zM2187 564h1v5h-1zM2189 561h1v9h-1zM2192 562h1v17h-1zM2194 565h1v31h-1zM2197 589h1v10h-1zM2199 571h1v26h-1zM2202 582h1v8h-1zM2204 585h1v18h-1zM2206 598h1v19h-1zM2209 604h1v5h-1zM2211 600h1v22h-1zM2214 613h1v6h-1zM2216 608h1v13h-1zM2219 614h1v15h-1zM2221 620h1v23h-1zM2223 634h1v13h-1zM2226 640h1v7h-1zM2228 641h1v3h-1zM2231 636h1v16h-1zM2233 638h1v51h-1zM2236 666h1v16h-1zM2238 651h1v20h-1zM2240 631h1v25h-1zM2243 630h1v18h-1zM2245 630h1v10h-1zM2248 633h1v10h-1zM2250 636h1v17h-1zM2253 648h1v8h-1zM2255 622h1v32h-1zM2257 623h1v9h-1zM2260 625h1v28h-1zM2262 644h1v7h-1zM2265 622h1v27h-1zM2267 612h1v15h-1zM2270 598h1v23h-1zM2272 594h1v34h-1zM2274 609h1v8h-1zM2277 607h1v12h-1zM2279 594h1v19h-1zM2282 603h1v12h-1zM2284 606h1v20h-1zM2287 614h1v13h-1zM2289 614h1v9h-1zM2291 612h1v9h-1zM2294 614h1v22h-1zM2296 632h1v11h-1zM2299 613h1v24h-1zM2301 600h1v24h-1zM2304 598h1v8h-1zM2306 601h1v23h-1zM2308 617h1v10h-1zM2311 620h1v14h-1zM2313 619h1v12h-1zM2316 616h1v11h-1zM2318 605h1v22h-1zM2321 615h1v25h-1zM2323 626h1v20h-1zM2325 634h1v9h-1zM2328 638h1v27h-1zM2330 661h1v25h-1zM2333 663h1v22h-1zM2335 642h1v31h-1zM2338 636h1v24h-1zM2340 640h1v12h-1zM2342 635h1v13h-1zM2345 635h1v23h-1zM2347 623h1v39h-1zM2350 630h1v10h-1zM2352 629h1v12h-1zM2355 625h1v18h-1zM2357 636h1v9h-1zM2359 635h1v17h-1zM2362 627h1v12h-1zM2364 619h1v10h-1zM2367 623h1v5h-1zM2369 616h1v19h-1zM2372 613h1v25h-1zM2374 602h1v18h-1zM2376 612h1v23h-1zM2379 606h1v29h-1zM2381 610h1v12h-1zM2384 600h1v13h-1zM2386 585h1v22h-1zM2389 592h1v5h-1zM2391 581h1v25h-1zM2393 577h1v7h-1zM2396 580h1v23h-1zM2398 590h1v13h-1zM2401 591h1v6h-1zM2403 580h1v13h-1zM2406 582h1v17h-1zM2408 592h1v35h-1zM2410 621h1v8h-1zM2413 577h1v59h-1zM2415 564h1v18h-1zM2418 549h1v36h-1zM2420 547h1v18h-1zM2423 533h1v30h-1zM2425 534h1v10h-1zM2427 530h1v17h-1zM2430 533h1v14h-1zM2432 533h1v9h-1zM2435 533h1v7h-1zM2437 524h1v23h-1zM2440 540h1v6h-1zM2442 529h1v16h-1zM2445 509h1v25h-1zM2447 515h1v21h-1zM2449 530h1v10h-1zM2452 535h1v21h-1zM2454 545h1v29h-1zM2457 547h1v15h-1zM2459 547h1v19h-1zM2462 550h1v24h-1zM2464 559h1v11h-1zM2466 548h1v27h-1zM2469 571h1v10h-1zM2471 551h1v31h-1zM2474 551h1v8h-1zM2476 549h1v60h-1zM2479 592h1v29h-1zM2481 603h1v28h-1zM2483 627h1v22h-1zM2486 641h1v11h-1zM2488 631h1v35h-1zM2491 660h1v11h-1zM2493 646h1v20h-1zM2496 603h1v51h-1zM2498 608h1v28h-1zM2500 628h1v25h-1zM2503 646h1v25h-1zM2505 657h1v39h-1zM2508 686h1v19h-1zM2510 696h1v24h-1zM2513 705h1v16h-1zM2515 686h1v24h-1zM2517 668h1v31h-1zM2520 668h1v28h-1zM2522 672h1v21h-1zM2525 660h1v24h-1zM2527 650h1v19h-1zM2530 649h1v10h-1zM2532 646h1v20h-1zM2534 649h1v5h-1zM2537 623h1v36h-1zM2539 619h1v11h-1zM2542 613h1v17h-1zM2544 625h1v4h-1zM2547 606h1v24h-1zM2549 603h1v10h-1zM2551 610h1v16h-1zM2554 611h1v15h-1zM2556 616h1v15h-1zM2559 615h1v31h-1zM2561 630h1v33h-1zM2564 652h1v29h-1zM2566 667h1v49h-1zM2568 693h1v24h-1zM2571 660h1v39h-1zM2573 665h1v26h-1zM2576 683h1v24h-1zM2578 696h1v12h-1zM2581 690h1v10h-1zM2583 691h1v24h-1zM2585 693h1v17h-1zM2588 694h1v11h-1zM2590 693h1v13h-1zM2593 700h1v10h-1zM2595 704h1v18h-1zM2598 706h1v11h-1zM2600 703h1v31h-1zM2602 718h1v23h-1zM2605 721h1v31h-1zM2607 719h1v30h-1zM2610 711h1v13h-1zM2612 711h1v55h-1zM2615 749h1v17h-1zM2617 739h1v14h-1zM2619 744h1v13h-1zM2622 735h1v13h-1zM2624 726h1v27h-1zM2627 713h1v29h-1zM2629 711h1v7h-1zM2632 699h1v16h-1zM2634 698h1v13h-1zM2636 695h1v9h-1zM2639 691h1v8h-1zM2641 685h1v16h-1zM2644 683h1v21h-1zM2646 685h1v16h-1zM2649 683h1v6h-1zM2651 674h1v12h-1zM2653 675h1v29h-1zM2656 687h1v17h-1zM2658 688h1v14h-1zM2661 680h1v27h-1zM2663 679h1v11h-1zM2666 677h1v25h-1zM2668 653h1v38h-1zM2670 645h1v24h-1zM2673 645h1v19h-1zM2675 648h1v24h-1zM2678 666h1v35h-1zM2680 685h1v18h-1zM2683 699h1v18h-1zM2685 707h1v21h-1zM2688 704h1v19h-1zM2690 689h1v25h-1zM2692 684h1v23h-1zM2695 685h1v31h-1zM2697 699h1v14h-1zM2700 706h1v9h-1zM2702 703h1v18h-1zM2705 712h1v30h-1zM2707 726h1v16h-1zM2709 727h1v13h-1zM2712 734h1v24h-1zM2714 745h1v19h-1zM2717 744h1v12h-1zM2719 721h1v32h-1zM2722 711h1v15h-1zM2724 700h1v58h-1zM2726 749h1v9h-1zM2729 744h1v21h-1zM2731 759h1v11h-1zM2734 756h1v21h-1zM2736 748h1v19h-1zM2739 749h1v24h-1zM2741 770h1v20h-1zM2743 780h1v43h-1zM2746 816h1v20h-1zM2748 832h1v20h-1zM2751 810h1v32h-1zM2753 805h1v12h-1zM2756 806h1v44h-1zM2758 815h1v34h-1zM2760 816h1v9h-1zM2763 820h1v8h-1zM2765 822h1v23h-1zM2768 840h1v16h-1zM2770 845h1v25h-1zM2773 863h1v32h-1zM2775 875h1v15h-1zM2777 876h1v7h-1zM2780 875h1v16h-1zM2782 882h1v27h-1zM2785 865h1v44h-1zM2787 871h1v19h-1zM2790 873h1v16h-1zM2792 844h1v50h-1zM2794 854h1v25h-1zM2797 848h1v28h-1zM2799 818h1v40h-1zM2802 811h1v31h-1zM2804 831h1v22h-1zM2807 846h1v7h-1zM2809 845h1v16h-1zM2811 849h1v16h-1zM2814 853h1v30h-1zM2816 833h1v54h-1zM2819 824h1v15h-1zM2821 819h1v13h-1zM2824 812h1v28h-1zM2826 790h1v50h-1zM2828 763h1v37h-1zM2831 757h1v15h-1zM2833 746h1v30h-1zM2836 743h1v20h-1zM2838 749h1v17h-1zM2841 753h1v24h-1zM2843 772h1v21h-1zM2845 776h1v19h-1zM2848 765h1v17h-1zM2850 745h1v33h-1zM2853 746h1v7h-1zM2855 750h1v33h-1zM2858 760h1v22h-1zM2860 734h1v36h-1zM2862 733h1v15h-1zM2865 730h1v6h-1zM2867 733h1v35h-1zM2870 755h1v11h-1zM2872 750h1v14h-1zM2875 747h1v18h-1zM2877 721h1v35h-1zM2879 724h1v13h-1zM2882 733h1v25h-1zM2884 726h1v31h-1zM2887 718h1v21h-1zM2889 715h1v60h-1zM2892 759h1v14h-1zM2894 757h1v16h-1zM2896 761h1v19h-1zM2899 761h1v24h-1zM2901 765h1v9h-1zM2904 751h1v19h-1zM2906 755h1v11h-1zM2909 759h1v8h-1zM2911 742h1v28h-1zM2913 730h1v15h-1zM2916 727h1v7h-1zM2918 720h1v37h-1zM2921 719h1v37h-1zM2923 720h1v42h-1zM2926 711h1v39h-1zM2928 703h1v16h-1zM2931 704h1v11h-1zM2933 707h1v10h-1zM2935 691h1v28h-1zM2938 679h1v29h-1zM2940 692h1v5h-1zM2943 677h1v18h-1zM2945 680h1v18h-1zM2948 679h1v29h-1zM2950 688h1v17h-1zM2952 668h1v24h-1zM2955 665h1v14h-1zM2957 646h1v45h-1zM2960 639h1v10h-1zM2962 642h1v14h-1zM2965 647h1v25h-1zM2967 661h1v5h-1zM2969 638h1v33h-1zM2972 638h1v5h-1zM2974 638h1v55h-1zM2977 686h1v28h-1zM2979 688h1v30h-1zM2982 689h1v5h-1zM2984 679h1v25h-1zM2986 698h1v7h-1zM2989 683h1v30h-1zM2991 680h1v10h-1zM2994 680h1v10h-1zM2996 679h1v40h-1zM2999 713h1v6h-1zM3001 705h1v14h-1zM3003 698h1v27h-1zM3006 711h1v13h-1zM3008 716h1v27h-1zM3011 733h1v9h-1zM3013 734h1v23h-1zM3016 751h1v9h-1zM3018 749h1v15h-1zM3020 746h1v13h-1zM3023 743h1v10h-1zM3025 736h1v16h-1zM3028 746h1v47h-1zM3030 779h1v22h-1zM3033 782h1v17h-1zM3035 790h1v10h-1zM3037 771h1v34h-1zM3040 768h1v7h-1zM3042 768h1v6h-1zM3045 758h1v43h-1zM3047 760h1v31h-1zM3050 756h1v19h-1zM3052 755h1v13h-1zM3054 761h1v20h-1zM3057 759h1v15h-1zM3059 760h1v11h-1zM3062 763h1v28h-1zM3064 774h1v19h-1zM3067 750h1v36h-1zM3069 756h1v21h-1zM3071 761h1v16h-1zM3074 733h1v41h-1zM3076 735h1v19h-1zM3079 736h1v22h-1zM3081 737h1v32h-1zM3084 765h1v13h-1zM3086 773h1v12h-1zM3088 763h1v24h-1zM3091 760h1v22h-1zM3093 736h1v44h-1zM3096 731h1v14h-1zM3098 738h1v31h-1zM3101 751h1v15h-1zM3103 755h1v15h-1zM3105 751h1v11h-1zM3108 753h1v13h-1zM3110 755h1v10h-1zM3113 760h1v22h-1zM3115 771h1v27h-1zM3118 783h1v11h-1zM3120 783h1v12h-1zM3122 773h1v17h-1zM3125 774h1v8h-1zM3127 773h1v20h-1zM3130 762h1v15h-1zM3132 746h1v22h-1zM3135 739h1v30h-1zM3137 737h1v18h-1zM3139 740h1v12h-1zM3142 742h1v8h-1zM3144 730h1v52h-1zM3147 758h1v23h-1zM3149 763h1v11h-1zM3152 766h1v10h-1zM3154 758h1v40h-1zM3156 772h1v17h-1zM3159 771h1v10h-1zM3161 770h1v25h-1zM3164 788h1v8h-1zM3166 787h1v42h-1zM3169 800h1v19h-1zM3171 801h1v18h-1zM3174 805h1v9h-1zM3176 804h1v27h-1zM3178 800h1v23h-1zM3181 790h1v24h-1zM3183 785h1v11h-1zM3186 778h1v15h-1zM3188 771h1v14h-1zM3191 754h1v23h-1zM3193 744h1v20h-1zM3195 744h1v15h-1zM3198 749h1v10h-1zM3200 738h1v21h-1zM3203 714h1v27h-1zM3205 710h1v17h-1zM3208 712h1v10h-1zM3210 714h1v13h-1zM3212 722h1v32h-1zM3215 725h1v17h-1zM3217 736h1v49h-1zM3220 771h1v6h-1zM3222 765h1v11h-1zM3225 767h1v29h-1zM3227 780h1v15h-1zM3229 770h1v16h-1zM3232 769h1v15h-1zM3234 766h1v17h-1zM3237 762h1v10h-1zM3239 764h1v16h-1zM3242 766h1v23h-1zM3244 762h1v28h-1zM3246 763h1v14h-1zM3249 753h1v18h-1zM3251 701h1v58h-1zM3254 709h1v14h-1zM3256 711h1v22h-1zM3259 728h1v10h-1zM3261 720h1v20h-1zM3263 732h1v22h-1zM3266 735h1v25h-1zM3268 738h1v27h-1zM3271 733h1v9h-1zM3273 731h1v23h-1zM3276 738h1v17h-1zM3278 748h1v38h-1zM3280 752h1v30h-1zM3283 755h1v35h-1zM3285 788h1v25h-1zM3288 801h1v16h-1zM3290 790h1v19h-1zM3293 792h1v13h-1zM3295 799h1v22h-1z" fill="#737375"/>
<path d="M3 526h3v11h-3zM8 518h3v2h-3zM10 519h3v2h-3zM15 496h3v10h-3zM20 492h3v12h-3zM22 504h3v7h-3zM25 508h3v1h-3zM27 508h3v10h-3zM32 518h3v26h-3zM34 544h3v11h-3zM37 552h3v11h-3zM40 563h3v6h-3zM43 569h3v6h-3zM50 556h3v7h-3zM52 563h3v9h-3zM55 572h3v10h-3zM62 570h3v7h-3zM72 558h3v2h-3zM77 550h3v3h-3zM79 553h3v22h-3zM86 562h3v3h-3zM91 563h3v12h-3zM94 575h3v1h-3zM99 564h3v3h-3zM106 554h3v16h-3zM111 565h3v1h-3zM116 561h3v1h-3zM118 562h3v13h-3zM133 557h3v35h-3zM135 592h3v10h-3zM137 602h3v6h-3zM140 608h3v3h-3zM152 577h3v5h-3zM154 582h3v28h-3zM162 584h3v1h-3zM164 584h3v5h-3zM167 589h3v19h-3zM169 608h3v15h-3zM174 622h3v6h-3zM181 624h3v25h-3zM193 628h3v7h-3zM205 599h3v2h-3zM208 601h3v5h-3zM210 606h3v4h-3zM215 609h3v12h-3zM220 616h3v1h-3zM222 617h3v8h-3zM225 625h3v16h-3zM227 641h3v15h-3zM230 656h3v7h-3zM235 652h3v10h-3zM249 642h3v8h-3zM254 648h3v1h-3zM257 649h3v9h-3zM259 658h3v3h-3zM261 661h3v2h-3zM266 656h3v6h-3zM274 655h3v2h-3zM288 604h3v4h-3zM291 608h3v10h-3zM293 618h3v12h-3zM305 588h3v10h-3zM308 598h3v21h-3zM312 609h3v3h-3zM315 612h3v3h-3zM317 615h3v2h-3zM320 617h3v4h-3zM332 578h3v9h-3zM334 587h3v17h-3zM337 604h3v9h-3zM339 613h3v11h-3zM342 624h3v1h-3zM349 616h3v1h-3zM351 617h3v14h-3zM354 631h3v1h-3zM359 629h3v14h-3zM361 643h3v19h-3zM363 662h3v9h-3zM368 666h3v1h-3zM373 663h3v1h-3zM376 664h3v5h-3zM380 666h3v3h-3zM383 669h3v15h-3zM393 641h3v1h-3zM405 619h3v12h-3zM410 629h3v1h-3zM412 630h3v4h-3zM417 633h3v9h-3zM419 642h3v5h-3zM422 647h3v3h-3zM427 628h3v1h-3zM429 629h3v7h-3zM436 605h3v7h-3zM439 612h3v4h-3zM441 616h3v8h-3zM444 624h3v26h-3zM446 650h3v2h-3zM448 652h3v4h-3zM451 656h3v5h-3zM463 643h3v2h-3zM468 634h3v1h-3zM470 635h3v18h-3zM480 629h3v12h-3zM482 641h3v10h-3zM485 651h3v1h-3zM487 652h3v4h-3zM490 656h3v5h-3zM492 661h3v11h-3zM495 672h3v3h-3zM507 654h3v7h-3zM514 653h3v1h-3zM519 648h3v7h-3zM521 655h3v2h-3zM529 643h3v9h-3zM531 652h3v6h-3zM538 648h3v9h-3zM541 657h3v3h-3zM546 649h3v2h-3zM551 645h3v1h-3zM555 633h3v11h-3zM563 629h3v2h-3zM565 631h3v1h-3zM568 631h3v7h-3zM570 638h3v1h-3zM572 639h3v8h-3zM575 647h3v5h-3zM577 652h3v20h-3zM580 672h3v4h-3zM587 666h3v5h-3zM589 671h3v8h-3zM597 675h3v8h-3zM602 678h3v4h-3zM604 682h3v1h-3zM609 679h3v16h-3zM611 695h3v1h-3zM614 696h3v9h-3zM616 705h3v9h-3zM623 704h3v7h-3zM626 711h3v2h-3zM633 701h3v1h-3zM638 700h3v4h-3zM645 693h3v1h-3zM650 683h3v4h-3zM657 680h3v10h-3zM660 690h3v8h-3zM665 697h3v7h-3zM667 704h3v7h-3zM670 711h3v8h-3zM694 675h3v8h-3zM696 683h3v5h-3zM701 674h3v5h-3zM704 679h3v10h-3zM708 687h3v12h-3zM721 670h3v6h-3zM725 660h3v2h-3zM730 660h3v14h-3zM733 674h3v8h-3zM738 679h3v11h-3zM740 690h3v7h-3zM743 697h3v10h-3zM745 707h3v1h-3zM747 708h3v12h-3zM750 720h3v10h-3zM752 730h3v14h-3zM755 744h3v8h-3zM764 738h3v3h-3zM767 741h3v9h-3zM772 738h3v12h-3zM779 742h3v5h-3zM786 744h3v4h-3zM789 748h3v2h-3zM791 750h3v3h-3zM796 745h3v7h-3zM798 752h3v4h-3zM801 756h3v3h-3zM818 715h3v6h-3zM828 715h3v1h-3zM830 716h3v9h-3zM832 725h3v7h-3zM835 732h3v5h-3zM837 737h3v12h-3zM845 738h3v12h-3zM847 750h3v1h-3zM852 749h3v4h-3zM854 753h3v10h-3zM862 746h3v1h-3zM864 747h3v3h-3zM866 750h3v5h-3zM869 755h3v2h-3zM876 742h3v3h-3zM879 745h3v4h-3zM891 718h3v4h-3zM896 719h3v11h-3zM898 730h3v4h-3zM908 709h3v1h-3zM913 705h3v7h-3zM920 708h3v1h-3zM922 709h3v9h-3zM925 718h3v7h-3zM927 725h3v4h-3zM930 729h3v1h-3zM932 730h3v10h-3zM937 731h3v2h-3zM942 730h3v5h-3zM944 735h3v5h-3zM947 740h3v1h-3zM951 740h3v1h-3zM954 741h3v3h-3zM959 739h3v7h-3zM968 723h3v5h-3zM971 728h3v4h-3zM973 732h3v4h-3zM983 708h3v6h-3zM988 713h3v9h-3zM1000 702h3v1h-3zM1015 676h3v1h-3zM1017 677h3v3h-3zM1020 680h3v9h-3zM1022 689h3v11h-3zM1024 700h3v18h-3zM1027 718h3v6h-3zM1034 707h3v7h-3zM1041 705h3v9h-3zM1046 712h3v6h-3zM1049 718h3v5h-3zM1054 722h3v1h-3zM1056 723h3v8h-3zM1058 731h3v12h-3zM1061 743h3v2h-3zM1063 745h3v11h-3zM1066 756h3v8h-3zM1068 764h3v2h-3zM1075 751h3v1h-3zM1078 752h3v5h-3zM1080 757h3v14h-3zM1088 758h3v1h-3zM1092 755h3v4h-3zM1097 758h3v15h-3zM1100 773h3v2h-3zM1102 775h3v8h-3zM1107 782h3v8h-3zM1109 790h3v6h-3zM1112 796h3v10h-3zM1117 804h3v12h-3zM1119 816h3v7h-3zM1129 780h3v8h-3zM1131 788h3v6h-3zM1134 794h3v25h-3zM1136 819h3v5h-3zM1139 824h3v43h-3zM1141 867h3v46h-3zM1143 913h3v14h-3zM1146 927h3v34h-3zM1148 961h3v72h-3zM1168 909h3v5h-3zM1170 914h3v20h-3zM1173 934h3v10h-3zM1175 944h3v19h-3zM1197 838h3v32h-3zM1202 860h3v1h-3zM1204 861h3v20h-3zM1207 881h3v3h-3zM1224 806h3v12h-3zM1226 818h3v25h-3zM1229 843h3v1h-3zM1233 841h3v7h-3zM1241 814h3v7h-3zM1243 821h3v7h-3zM1246 828h3v6h-3zM1248 834h3v10h-3zM1260 795h3v7h-3zM1263 802h3v11h-3zM1270 779h3v7h-3zM1289 675h3v16h-3zM1294 682h3v22h-3zM1297 704h3v17h-3zM1304 704h3v9h-3zM1309 712h3v6h-3zM1311 718h3v8h-3zM1316 697h3v2h-3zM1318 699h3v16h-3zM1323 713h3v5h-3zM1338 688h3v6h-3zM1345 681h3v4h-3zM1348 685h3v17h-3zM1357 678h3v9h-3zM1369 639h3v12h-3zM1372 651h3v2h-3zM1382 625h3v2h-3zM1384 627h3v11h-3zM1386 638h3v6h-3zM1396 615h3v15h-3zM1399 630h3v9h-3zM1403 635h3v3h-3zM1416 612h3v12h-3zM1418 624h3v1h-3zM1420 625h3v13h-3zM1437 574h3v5h-3zM1440 579h3v13h-3zM1442 592h3v12h-3zM1447 604h3v13h-3zM1454 603h3v2h-3zM1462 595h3v3h-3zM1467 591h3v7h-3zM1469 598h3v3h-3zM1471 601h3v16h-3zM1474 617h3v14h-3zM1476 631h3v24h-3zM1479 655h3v10h-3zM1481 665h3v5h-3zM1493 628h3v9h-3zM1498 634h3v15h-3zM1508 612h3v18h-3zM1510 630h3v3h-3zM1513 633h3v7h-3zM1515 640h3v18h-3zM1520 657h3v8h-3zM1532 643h3v3h-3zM1537 644h3v19h-3zM1540 663h3v7h-3zM1542 670h3v4h-3zM1552 602h3v3h-3zM1554 605h3v1h-3zM1561 600h3v13h-3zM1571 590h3v4h-3zM1574 594h3v7h-3zM1576 601h3v1h-3zM1586 576h3v2h-3zM1591 573h3v8h-3zM1600 558h3v3h-3zM1603 561h3v5h-3zM1608 564h3v3h-3zM1620 521h3v1h-3zM1627 505h3v10h-3zM1629 515h3v10h-3zM1632 525h3v1h-3zM1639 513h3v1h-3zM1654 483h3v9h-3zM1661 451h3v17h-3zM1663 468h3v15h-3zM1668 464h3v8h-3zM1671 472h3v1h-3zM1676 462h3v25h-3zM1678 487h3v1h-3zM1685 465h3v1h-3zM1688 466h3v13h-3zM1693 471h3v21h-3zM1697 490h3v8h-3zM1700 498h3v5h-3zM1702 503h3v5h-3zM1707 507h3v1h-3zM1710 508h3v3h-3zM1717 471h3v1h-3zM1722 471h3v3h-3zM1729 462h3v5h-3zM1732 467h3v1h-3zM1744 408h3v19h-3zM1746 427h3v3h-3zM1749 430h3v50h-3zM1756 450h3v24h-3zM1758 474h3v1h-3zM1761 475h3v22h-3zM1770 458h3v1h-3zM1773 459h3v11h-3zM1783 456h3v11h-3zM1785 467h3v2h-3zM1787 469h3v5h-3zM1790 474h3v33h-3zM1792 507h3v9h-3zM1802 502h3v10h-3zM1817 493h3v13h-3zM1821 497h3v7h-3zM1824 504h3v1h-3zM1831 470h3v1h-3zM1834 471h3v7h-3zM1838 463h3v4h-3zM1841 467h3v2h-3zM1843 469h3v13h-3zM1848 456h3v3h-3zM1851 459h3v2h-3zM1855 458h3v6h-3zM1858 464h3v14h-3zM1863 465h3v15h-3zM1872 438h3v6h-3zM1875 444h3v28h-3zM1877 472h3v4h-3zM1889 457h3v17h-3zM1894 463h3v10h-3zM1902 468h3v6h-3zM1906 472h3v8h-3zM1914 466h3v28h-3zM1921 465h3v3h-3zM1923 468h3v2h-3zM1926 470h3v3h-3zM1931 468h3v10h-3zM1933 478h3v9h-3zM1936 487h3v2h-3zM1938 489h3v23h-3zM1940 512h3v33h-3zM1953 515h3v6h-3zM1958 514h3v15h-3zM1960 529h3v8h-3zM1962 537h3v12h-3zM1972 531h3v6h-3zM1975 537h3v22h-3zM1979 545h3v4h-3zM1982 549h3v5h-3zM1987 545h3v8h-3zM1989 553h3v6h-3zM1992 559h3v5h-3zM1994 564h3v23h-3zM2001 574h3v5h-3zM2006 574h3v4h-3zM2013 568h3v2h-3zM2016 570h3v13h-3zM2026 566h3v1h-3zM2028 567h3v15h-3zM2030 582h3v4h-3zM2038 575h3v11h-3zM2043 577h3v10h-3zM2045 587h3v22h-3zM2047 609h3v9h-3zM2050 618h3v25h-3zM2060 603h3v11h-3zM2067 591h3v2h-3zM2077 551h3v6h-3zM2079 557h3v10h-3zM2081 567h3v11h-3zM2086 573h3v4h-3zM2091 576h3v1h-3zM2094 577h3v13h-3zM2098 586h3v14h-3zM2101 600h3v4h-3zM2103 604h3v11h-3zM2113 598h3v9h-3zM2118 599h3v19h-3zM2120 618h3v12h-3zM2128 603h3v1h-3zM2137 586h3v8h-3zM2149 560h3v5h-3zM2159 538h3v9h-3zM2166 540h3v1h-3zM2174 527h3v10h-3zM2179 532h3v23h-3zM2181 555h3v7h-3zM2183 562h3v5h-3zM2191 563h3v15h-3zM2193 578h3v12h-3zM2196 590h3v4h-3zM2201 584h3v4h-3zM2203 588h3v14h-3zM2205 602h3v5h-3zM2210 606h3v9h-3zM2213 615h3v3h-3zM2215 618h3v2h-3zM2218 620h3v2h-3zM2220 622h3v15h-3zM2222 637h3v8h-3zM2230 643h3v4h-3zM2232 647h3v32h-3zM2244 632h3v6h-3zM2247 638h3v4h-3zM2249 642h3v8h-3zM2252 650h3v2h-3zM2256 625h3v4h-3zM2259 629h3v18h-3zM2261 647h3v1h-3zM2271 607h3v9h-3zM2281 605h3v1h-3zM2283 606h3v18h-3zM2290 615h3v3h-3zM2293 618h3v16h-3zM2295 634h3v1h-3zM2303 601h3v1h-3zM2305 602h3v19h-3zM2307 621h3v5h-3zM2312 623h3v3h-3zM2320 618h3v21h-3zM2322 639h3v3h-3zM2327 640h3v22h-3zM2329 662h3v20h-3zM2341 642h3v1h-3zM2344 643h3v13h-3zM2351 631h3v6h-3zM2354 637h3v1h-3zM2356 638h3v6h-3zM2368 626h3v5h-3zM2375 615h3v19h-3zM2388 594h3v1h-3zM2395 581h3v20h-3zM2405 583h3v15h-3zM2407 598h3v27h-3zM2429 537h3v4h-3zM2434 536h3v1h-3zM2436 537h3v6h-3zM2439 543h3v1h-3zM2446 519h3v12h-3zM2448 531h3v6h-3zM2451 537h3v13h-3zM2453 550h3v11h-3zM2458 552h3v1h-3zM2461 553h3v13h-3zM2465 560h3v13h-3zM2468 573h3v7h-3zM2475 554h3v45h-3zM2478 599h3v9h-3zM2480 608h3v21h-3zM2482 629h3v19h-3zM2487 643h3v21h-3zM2497 609h3v21h-3zM2499 630h3v19h-3zM2502 649h3v21h-3zM2504 670h3v21h-3zM2507 691h3v8h-3zM2509 699h3v20h-3zM2519 673h3v17h-3zM2533 650h3v3h-3zM2541 626h3v2h-3zM2548 607h3v5h-3zM2550 612h3v12h-3zM2558 617h3v16h-3zM2560 633h3v22h-3zM2563 655h3v23h-3zM2565 678h3v36h-3zM2572 669h3v19h-3zM2575 688h3v17h-3zM2582 693h3v15h-3zM2587 698h3v5h-3zM2592 702h3v5h-3zM2594 707h3v4h-3zM2599 708h3v22h-3zM2604 722h3v20h-3zM2611 721h3v32h-3zM2616 750h3v1h-3zM2623 737h3v3h-3zM2638 697h3v1h-3zM2645 687h3v1h-3zM2652 676h3v24h-3zM2657 690h3v12h-3zM2665 683h3v6h-3zM2672 648h3v13h-3zM2674 661h3v10h-3zM2677 671h3v17h-3zM2679 688h3v13h-3zM2682 701h3v15h-3zM2684 716h3v5h-3zM2694 686h3v23h-3zM2699 708h3v2h-3zM2701 710h3v8h-3zM2704 718h3v21h-3zM2708 732h3v4h-3zM2711 736h3v17h-3zM2716 748h3v1h-3zM2723 713h3v41h-3zM2728 753h3v10h-3zM2730 763h3v2h-3zM2733 765h3v1h-3zM2738 758h3v14h-3zM2740 772h3v15h-3zM2742 787h3v32h-3zM2745 819h3v16h-3zM2747 835h3v4h-3zM2755 812h3v35h-3zM2759 819h3v3h-3zM2762 822h3v1h-3zM2764 823h3v20h-3zM2767 843h3v11h-3zM2769 854h3v14h-3zM2772 868h3v17h-3zM2779 879h3v9h-3zM2781 888h3v19h-3zM2786 874h3v11h-3zM2789 885h3v2h-3zM2793 857h3v17h-3zM2801 822h3v13h-3zM2803 835h3v15h-3zM2808 849h3v8h-3zM2810 857h3v3h-3zM2813 860h3v20h-3zM2823 821h3v18h-3zM2835 751h3v2h-3zM2837 753h3v13h-3zM2840 766h3v8h-3zM2842 774h3v17h-3zM2852 748h3v3h-3zM2854 751h3v27h-3zM2864 734h3v1h-3zM2866 735h3v29h-3zM2871 758h3v3h-3zM2878 734h3v2h-3zM2881 736h3v17h-3zM2888 719h3v48h-3zM2893 763h3v8h-3zM2898 763h3v10h-3zM2908 760h3v1h-3zM2917 731h3v23h-3zM2922 728h3v21h-3zM2930 706h3v5h-3zM2937 692h3v3h-3zM2947 684h3v20h-3zM2954 677h3v1h-3zM2961 644h3v5h-3zM2964 649h3v16h-3zM2973 641h3v50h-3zM2976 691h3v22h-3zM2981 691h3v1h-3zM2983 692h3v9h-3zM2985 701h3v2h-3zM2990 684h3v5h-3zM2995 684h3v31h-3zM2998 715h3v2h-3zM3002 708h3v13h-3zM3005 721h3v3h-3zM3007 724h3v15h-3zM3010 739h3v1h-3zM3012 740h3v16h-3zM3019 751h3v1h-3zM3024 749h3v2h-3zM3027 751h3v36h-3zM3029 787h3v11h-3zM3034 793h3v6h-3zM3041 770h3v1h-3zM3044 771h3v17h-3zM3051 760h3v6h-3zM3053 766h3v6h-3zM3058 766h3v3h-3zM3061 769h3v15h-3zM3068 762h3v7h-3zM3078 737h3v8h-3zM3080 745h3v22h-3zM3083 767h3v8h-3zM3085 775h3v6h-3zM3097 740h3v24h-3zM3102 760h3v1h-3zM3107 755h3v3h-3zM3109 758h3v4h-3zM3112 762h3v17h-3zM3114 779h3v14h-3zM3119 785h3v4h-3zM3138 741h3v7h-3zM3143 743h3v36h-3zM3148 765h3v8h-3zM3153 770h3v18h-3zM3160 776h3v14h-3zM3163 790h3v2h-3zM3165 792h3v26h-3zM3173 809h3v1h-3zM3175 810h3v11h-3zM3194 749h3v8h-3zM3207 714h3v1h-3zM3209 715h3v9h-3zM3211 724h3v17h-3zM3216 738h3v34h-3zM3219 772h3v3h-3zM3224 769h3v24h-3zM3238 766h3v12h-3zM3241 778h3v7h-3zM3245 764h3v5h-3zM3253 714h3v2h-3zM3255 716h3v14h-3zM3258 730h3v3h-3zM3260 733h3v2h-3zM3262 735h3v7h-3zM3265 742h3v15h-3zM3272 735h3v14h-3zM3275 749h3v3h-3zM3277 752h3v27h-3zM3282 759h3v30h-3zM3284 789h3v22h-3zM3294 800h3v9h-3z" fill="#4a0808"/>
<path d="M5 518h3v19h-3zM13 498h3v23h-3zM17 492h3v14h-3zM30 518h3v1h-3zM45 570h3v5h-3zM48 556h3v14h-3zM57 573h3v9h-3zM60 570h3v3h-3zM65 571h3v6h-3zM67 566h3v5h-3zM69 558h3v8h-3zM74 550h3v10h-3zM82 570h3v5h-3zM84 562h3v8h-3zM89 563h3v2h-3zM96 564h3v12h-3zM101 558h3v9h-3zM103 554h3v4h-3zM108 565h3v5h-3zM113 561h3v5h-3zM120 573h3v2h-3zM123 566h3v7h-3zM125 561h3v5h-3zM128 558h3v3h-3zM130 557h3v1h-3zM142 604h3v7h-3zM145 599h3v5h-3zM147 584h3v15h-3zM150 577h3v7h-3zM157 591h3v19h-3zM159 584h3v7h-3zM171 622h3v1h-3zM176 625h3v3h-3zM179 624h3v1h-3zM184 645h3v4h-3zM186 638h3v7h-3zM188 637h3v1h-3zM191 628h3v9h-3zM196 626h3v9h-3zM198 620h3v6h-3zM201 610h3v10h-3zM203 599h3v11h-3zM213 609h3v1h-3zM218 616h3v5h-3zM232 652h3v11h-3zM237 661h3v1h-3zM239 647h3v14h-3zM242 646h3v1h-3zM244 643h3v3h-3zM247 642h3v1h-3zM252 648h3v2h-3zM264 656h3v7h-3zM269 657h3v5h-3zM271 655h3v2h-3zM276 627h3v30h-3zM278 627h3v1h-3zM281 622h3v5h-3zM283 610h3v12h-3zM286 604h3v6h-3zM295 626h3v4h-3zM298 613h3v13h-3zM300 604h3v9h-3zM303 588h3v16h-3zM310 609h3v10h-3zM322 600h3v21h-3zM325 586h3v14h-3zM327 582h3v4h-3zM329 578h3v4h-3zM344 618h3v7h-3zM346 616h3v2h-3zM356 629h3v3h-3zM366 666h3v5h-3zM371 663h3v4h-3zM378 666h3v3h-3zM385 679h3v5h-3zM388 649h3v30h-3zM390 641h3v8h-3zM395 634h3v8h-3zM397 627h3v7h-3zM400 623h3v4h-3zM402 619h3v4h-3zM407 629h3v2h-3zM414 633h3v1h-3zM424 628h3v22h-3zM431 606h3v30h-3zM434 605h3v1h-3zM453 658h3v3h-3zM456 655h3v3h-3zM458 647h3v8h-3zM461 643h3v4h-3zM465 634h3v11h-3zM473 642h3v11h-3zM475 632h3v10h-3zM478 629h3v3h-3zM497 665h3v10h-3zM500 662h3v3h-3zM502 655h3v7h-3zM504 654h3v1h-3zM509 657h3v4h-3zM512 653h3v4h-3zM517 648h3v6h-3zM524 649h3v8h-3zM526 643h3v6h-3zM534 651h3v7h-3zM536 648h3v3h-3zM543 649h3v11h-3zM548 645h3v6h-3zM553 633h3v13h-3zM558 634h3v10h-3zM560 629h3v5h-3zM582 669h3v7h-3zM585 666h3v3h-3zM592 678h3v1h-3zM594 675h3v3h-3zM599 678h3v5h-3zM606 679h3v4h-3zM619 712h3v2h-3zM621 704h3v8h-3zM628 708h3v5h-3zM631 701h3v7h-3zM636 700h3v2h-3zM640 701h3v3h-3zM643 693h3v8h-3zM648 683h3v10h-3zM653 685h3v2h-3zM655 680h3v5h-3zM662 697h3v1h-3zM672 716h3v3h-3zM674 711h3v5h-3zM677 705h3v6h-3zM679 697h3v8h-3zM682 693h3v4h-3zM684 691h3v2h-3zM687 683h3v8h-3zM689 677h3v6h-3zM691 675h3v2h-3zM699 674h3v14h-3zM706 687h3v2h-3zM711 691h3v8h-3zM713 687h3v4h-3zM716 677h3v10h-3zM718 670h3v7h-3zM723 660h3v16h-3zM728 660h3v2h-3zM735 679h3v3h-3zM757 746h3v6h-3zM760 745h3v1h-3zM762 738h3v7h-3zM769 738h3v12h-3zM774 745h3v5h-3zM777 742h3v3h-3zM781 745h3v2h-3zM784 744h3v1h-3zM794 745h3v8h-3zM803 751h3v8h-3zM806 742h3v9h-3zM808 740h3v2h-3zM811 729h3v11h-3zM813 723h3v6h-3zM815 715h3v8h-3zM820 720h3v1h-3zM823 717h3v3h-3zM825 715h3v2h-3zM840 744h3v5h-3zM842 738h3v6h-3zM849 749h3v2h-3zM857 759h3v4h-3zM859 746h3v13h-3zM871 745h3v12h-3zM874 742h3v3h-3zM881 742h3v7h-3zM883 728h3v14h-3zM886 725h3v3h-3zM888 718h3v7h-3zM893 719h3v3h-3zM900 728h3v6h-3zM903 718h3v10h-3zM905 709h3v9h-3zM910 705h3v5h-3zM915 710h3v2h-3zM917 708h3v2h-3zM934 731h3v9h-3zM939 730h3v3h-3zM949 740h3v1h-3zM956 739h3v5h-3zM961 730h3v16h-3zM964 726h3v4h-3zM966 723h3v3h-3zM976 732h3v4h-3zM978 709h3v23h-3zM981 708h3v1h-3zM986 713h3v1h-3zM990 719h3v3h-3zM993 713h3v6h-3zM995 708h3v5h-3zM998 702h3v6h-3zM1003 699h3v4h-3zM1005 694h3v5h-3zM1007 685h3v9h-3zM1010 677h3v8h-3zM1012 676h3v1h-3zM1029 720h3v4h-3zM1032 707h3v13h-3zM1037 707h3v7h-3zM1039 705h3v2h-3zM1044 712h3v2h-3zM1051 722h3v1h-3zM1071 759h3v7h-3zM1073 751h3v8h-3zM1083 767h3v4h-3zM1085 758h3v9h-3zM1090 755h3v4h-3zM1095 758h3v1h-3zM1105 782h3v1h-3zM1114 804h3v2h-3zM1122 796h3v27h-3zM1124 781h3v15h-3zM1126 780h3v1h-3zM1151 1026h3v7h-3zM1153 1017h3v9h-3zM1156 993h3v24h-3zM1158 976h3v17h-3zM1160 956h3v20h-3zM1163 954h3v2h-3zM1165 909h3v45h-3zM1177 948h3v15h-3zM1180 935h3v13h-3zM1182 911h3v24h-3zM1185 888h3v23h-3zM1187 869h3v19h-3zM1190 867h3v2h-3zM1192 846h3v21h-3zM1194 838h3v8h-3zM1199 860h3v10h-3zM1209 873h3v11h-3zM1211 855h3v18h-3zM1214 853h3v2h-3zM1216 832h3v21h-3zM1219 822h3v10h-3zM1221 806h3v16h-3zM1231 841h3v3h-3zM1236 822h3v26h-3zM1238 814h3v8h-3zM1250 833h3v11h-3zM1253 816h3v17h-3zM1255 802h3v14h-3zM1258 795h3v7h-3zM1265 810h3v3h-3zM1267 779h3v31h-3zM1272 784h3v2h-3zM1275 763h3v21h-3zM1277 717h3v46h-3zM1280 702h3v15h-3zM1282 696h3v6h-3zM1284 695h3v1h-3zM1287 675h3v20h-3zM1292 682h3v9h-3zM1299 711h3v10h-3zM1301 704h3v7h-3zM1306 712h3v1h-3zM1314 697h3v29h-3zM1321 713h3v2h-3zM1326 714h3v4h-3zM1328 713h3v1h-3zM1331 703h3v10h-3zM1333 698h3v5h-3zM1335 688h3v10h-3zM1340 691h3v3h-3zM1343 681h3v10h-3zM1350 696h3v6h-3zM1352 680h3v16h-3zM1355 678h3v2h-3zM1360 685h3v2h-3zM1362 655h3v30h-3zM1365 641h3v14h-3zM1367 639h3v2h-3zM1374 641h3v12h-3zM1377 637h3v4h-3zM1379 625h3v12h-3zM1389 627h3v17h-3zM1391 621h3v6h-3zM1394 615h3v6h-3zM1401 635h3v4h-3zM1406 633h3v5h-3zM1408 623h3v10h-3zM1411 618h3v5h-3zM1413 612h3v6h-3zM1423 626h3v12h-3zM1425 621h3v5h-3zM1428 615h3v6h-3zM1430 594h3v21h-3zM1433 577h3v17h-3zM1435 574h3v3h-3zM1445 604h3v1h-3zM1450 615h3v2h-3zM1452 603h3v12h-3zM1457 601h3v4h-3zM1459 595h3v6h-3zM1464 591h3v7h-3zM1484 651h3v19h-3zM1486 640h3v11h-3zM1489 630h3v10h-3zM1491 628h3v2h-3zM1496 634h3v3h-3zM1501 634h3v15h-3zM1503 614h3v20h-3zM1506 612h3v2h-3zM1518 657h3v1h-3zM1523 651h3v14h-3zM1525 647h3v4h-3zM1527 646h3v1h-3zM1530 643h3v3h-3zM1535 644h3v2h-3zM1544 643h3v31h-3zM1547 628h3v15h-3zM1549 602h3v26h-3zM1557 604h3v2h-3zM1559 600h3v4h-3zM1564 609h3v4h-3zM1566 592h3v17h-3zM1569 590h3v2h-3zM1578 597h3v5h-3zM1581 591h3v6h-3zM1583 576h3v15h-3zM1588 573h3v5h-3zM1593 579h3v2h-3zM1595 569h3v10h-3zM1598 558h3v11h-3zM1605 564h3v2h-3zM1610 539h3v28h-3zM1612 536h3v3h-3zM1615 526h3v10h-3zM1617 521h3v5h-3zM1622 514h3v8h-3zM1625 505h3v9h-3zM1634 522h3v4h-3zM1637 513h3v9h-3zM1642 513h3v1h-3zM1644 501h3v12h-3zM1646 490h3v11h-3zM1649 485h3v5h-3zM1651 483h3v2h-3zM1656 455h3v37h-3zM1659 451h3v4h-3zM1666 464h3v19h-3zM1673 462h3v11h-3zM1680 477h3v11h-3zM1683 465h3v12h-3zM1690 471h3v8h-3zM1695 490h3v2h-3zM1705 507h3v1h-3zM1712 482h3v29h-3zM1715 471h3v11h-3zM1719 471h3v1h-3zM1724 469h3v5h-3zM1727 462h3v7h-3zM1734 453h3v15h-3zM1736 429h3v24h-3zM1739 424h3v5h-3zM1741 408h3v16h-3zM1751 463h3v17h-3zM1753 450h3v13h-3zM1763 496h3v1h-3zM1766 483h3v13h-3zM1768 458h3v25h-3zM1775 469h3v1h-3zM1778 467h3v2h-3zM1780 456h3v11h-3zM1795 511h3v5h-3zM1797 503h3v8h-3zM1800 502h3v1h-3zM1804 509h3v3h-3zM1807 504h3v5h-3zM1809 498h3v6h-3zM1812 494h3v4h-3zM1814 493h3v1h-3zM1819 497h3v9h-3zM1826 482h3v23h-3zM1829 470h3v12h-3zM1836 463h3v15h-3zM1846 456h3v26h-3zM1853 458h3v3h-3zM1860 465h3v13h-3zM1865 461h3v19h-3zM1868 448h3v13h-3zM1870 438h3v10h-3zM1880 466h3v10h-3zM1882 463h3v3h-3zM1885 460h3v3h-3zM1887 457h3v3h-3zM1892 463h3v11h-3zM1897 469h3v4h-3zM1899 468h3v1h-3zM1904 472h3v2h-3zM1909 475h3v5h-3zM1911 466h3v9h-3zM1916 485h3v9h-3zM1919 465h3v20h-3zM1928 468h3v5h-3zM1943 538h3v7h-3zM1945 530h3v8h-3zM1948 521h3v9h-3zM1950 515h3v6h-3zM1955 514h3v7h-3zM1965 541h3v8h-3zM1967 534h3v7h-3zM1970 531h3v3h-3zM1977 545h3v14h-3zM1984 545h3v9h-3zM1996 580h3v7h-3zM1999 574h3v6h-3zM2004 574h3v5h-3zM2009 575h3v3h-3zM2011 568h3v7h-3zM2018 575h3v8h-3zM2021 571h3v4h-3zM2023 566h3v5h-3zM2033 578h3v8h-3zM2035 575h3v3h-3zM2040 577h3v9h-3zM2052 642h3v1h-3zM2055 615h3v27h-3zM2057 603h3v12h-3zM2062 613h3v1h-3zM2064 591h3v22h-3zM2069 591h3v2h-3zM2072 575h3v16h-3zM2074 551h3v24h-3zM2084 573h3v5h-3zM2089 576h3v1h-3zM2096 586h3v4h-3zM2106 611h3v4h-3zM2108 605h3v6h-3zM2111 598h3v7h-3zM2115 599h3v8h-3zM2123 608h3v22h-3zM2125 603h3v5h-3zM2130 603h3v1h-3zM2132 598h3v5h-3zM2135 586h3v12h-3zM2140 584h3v10h-3zM2142 578h3v6h-3zM2145 571h3v7h-3zM2147 560h3v11h-3zM2152 562h3v3h-3zM2154 541h3v21h-3zM2157 538h3v3h-3zM2162 546h3v1h-3zM2164 540h3v6h-3zM2169 528h3v13h-3zM2171 527h3v1h-3zM2176 532h3v5h-3zM2186 567h3v1h-3zM2188 563h3v4h-3zM2198 584h3v10h-3zM2208 606h3v1h-3zM2225 644h3v1h-3zM2227 643h3v1h-3zM2235 670h3v9h-3zM2237 655h3v15h-3zM2239 636h3v19h-3zM2242 632h3v4h-3zM2254 625h3v27h-3zM2264 625h3v23h-3zM2266 613h3v12h-3zM2269 607h3v6h-3zM2273 615h3v1h-3zM2276 609h3v6h-3zM2278 605h3v4h-3zM2286 618h3v6h-3zM2288 615h3v3h-3zM2298 620h3v15h-3zM2300 601h3v19h-3zM2310 623h3v3h-3zM2315 622h3v4h-3zM2317 618h3v4h-3zM2324 640h3v2h-3zM2332 669h3v13h-3zM2334 651h3v18h-3zM2337 646h3v5h-3zM2339 642h3v4h-3zM2346 636h3v20h-3zM2349 631h3v5h-3zM2358 638h3v6h-3zM2361 627h3v11h-3zM2363 627h3v1h-3zM2366 626h3v1h-3zM2371 619h3v12h-3zM2373 615h3v4h-3zM2378 614h3v20h-3zM2380 612h3v2h-3zM2383 604h3v8h-3zM2385 594h3v10h-3zM2390 583h3v12h-3zM2392 581h3v2h-3zM2397 593h3v8h-3zM2400 592h3v1h-3zM2402 583h3v9h-3zM2409 623h3v2h-3zM2412 581h3v42h-3zM2414 577h3v4h-3zM2417 560h3v17h-3zM2419 553h3v7h-3zM2422 541h3v12h-3zM2424 540h3v1h-3zM2426 537h3v3h-3zM2431 536h3v5h-3zM2441 530h3v14h-3zM2444 519h3v11h-3zM2456 552h3v9h-3zM2463 560h3v6h-3zM2470 557h3v23h-3zM2473 554h3v3h-3zM2485 643h3v5h-3zM2490 663h3v1h-3zM2492 652h3v11h-3zM2495 609h3v43h-3zM2512 707h3v12h-3zM2514 695h3v12h-3zM2516 673h3v22h-3zM2521 677h3v13h-3zM2524 666h3v11h-3zM2526 657h3v9h-3zM2529 653h3v4h-3zM2531 650h3v3h-3zM2536 627h3v26h-3zM2538 626h3v1h-3zM2543 626h3v2h-3zM2546 607h3v19h-3zM2553 623h3v1h-3zM2555 617h3v6h-3zM2567 698h3v16h-3zM2570 669h3v29h-3zM2577 698h3v7h-3zM2580 693h3v5h-3zM2584 698h3v10h-3zM2589 702h3v1h-3zM2597 708h3v3h-3zM2601 722h3v8h-3zM2606 722h3v20h-3zM2609 721h3v1h-3zM2614 750h3v3h-3zM2618 745h3v6h-3zM2621 737h3v8h-3zM2626 714h3v26h-3zM2628 712h3v2h-3zM2631 701h3v11h-3zM2633 700h3v1h-3zM2635 697h3v3h-3zM2640 692h3v5h-3zM2643 687h3v5h-3zM2648 685h3v3h-3zM2650 676h3v9h-3zM2655 690h3v10h-3zM2660 686h3v16h-3zM2662 683h3v3h-3zM2667 656h3v33h-3zM2669 648h3v8h-3zM2687 710h3v11h-3zM2689 694h3v16h-3zM2691 686h3v8h-3zM2696 708h3v1h-3zM2706 732h3v7h-3zM2713 748h3v5h-3zM2718 725h3v24h-3zM2721 713h3v12h-3zM2725 753h3v1h-3zM2735 758h3v8h-3zM2750 816h3v23h-3zM2752 812h3v4h-3zM2757 819h3v28h-3zM2774 882h3v3h-3zM2776 879h3v3h-3zM2784 874h3v33h-3zM2791 857h3v30h-3zM2796 855h3v19h-3zM2798 822h3v33h-3zM2806 849h3v1h-3zM2815 838h3v42h-3zM2818 831h3v7h-3zM2820 821h3v10h-3zM2825 794h3v45h-3zM2827 769h3v25h-3zM2830 763h3v6h-3zM2832 751h3v12h-3zM2844 781h3v10h-3zM2847 768h3v13h-3zM2849 748h3v20h-3zM2857 762h3v16h-3zM2859 737h3v25h-3zM2861 734h3v3h-3zM2869 758h3v6h-3zM2874 752h3v9h-3zM2876 734h3v18h-3zM2883 727h3v26h-3zM2886 719h3v8h-3zM2891 763h3v4h-3zM2895 763h3v8h-3zM2900 767h3v6h-3zM2903 764h3v3h-3zM2905 760h3v4h-3zM2910 743h3v18h-3zM2912 733h3v10h-3zM2915 731h3v2h-3zM2920 728h3v26h-3zM2925 713h3v36h-3zM2927 706h3v7h-3zM2932 710h3v1h-3zM2934 692h3v18h-3zM2939 694h3v1h-3zM2942 689h3v5h-3zM2944 684h3v5h-3zM2949 690h3v14h-3zM2951 677h3v13h-3zM2956 648h3v30h-3zM2959 644h3v4h-3zM2966 664h3v1h-3zM2968 642h3v22h-3zM2971 641h3v1h-3zM2978 691h3v22h-3zM2988 684h3v19h-3zM2993 684h3v5h-3zM3000 708h3v9h-3zM3015 754h3v2h-3zM3017 751h3v3h-3zM3022 749h3v3h-3zM3032 793h3v5h-3zM3036 773h3v26h-3zM3039 770h3v3h-3zM3046 768h3v20h-3zM3049 760h3v8h-3zM3056 766h3v6h-3zM3063 775h3v9h-3zM3066 762h3v13h-3zM3070 764h3v5h-3zM3073 741h3v23h-3zM3075 737h3v4h-3zM3087 774h3v7h-3zM3090 767h3v7h-3zM3092 742h3v25h-3zM3095 740h3v2h-3zM3100 760h3v4h-3zM3104 755h3v6h-3zM3117 785h3v8h-3zM3121 781h3v8h-3zM3124 780h3v1h-3zM3126 775h3v5h-3zM3129 765h3v10h-3zM3131 756h3v9h-3zM3134 742h3v14h-3zM3136 741h3v1h-3zM3141 743h3v5h-3zM3146 765h3v14h-3zM3151 770h3v3h-3zM3155 778h3v10h-3zM3158 776h3v2h-3zM3168 813h3v5h-3zM3170 809h3v4h-3zM3177 801h3v20h-3zM3180 792h3v9h-3zM3182 790h3v2h-3zM3185 779h3v11h-3zM3187 773h3v6h-3zM3190 756h3v17h-3zM3192 749h3v7h-3zM3197 754h3v3h-3zM3199 740h3v14h-3zM3202 717h3v23h-3zM3204 714h3v3h-3zM3214 738h3v3h-3zM3221 769h3v6h-3zM3226 782h3v11h-3zM3228 781h3v1h-3zM3231 776h3v5h-3zM3233 767h3v9h-3zM3236 766h3v1h-3zM3243 764h3v21h-3zM3248 757h3v12h-3zM3250 714h3v43h-3zM3267 741h3v16h-3zM3270 735h3v6h-3zM3279 759h3v17h-3zM3287 806h3v3h-3zM3289 801h3v5h-3zM3292 800h3v1h-3z" fill="#083c18"/>
<path d="M4 527h1v9h-1zM16 497h1v8h-1zM21 493h1v10h-1zM23 505h1v5h-1zM28 509h1v8h-1zM33 519h1v24h-1zM35 545h1v9h-1zM38 553h1v9h-1zM41 564h1v4h-1zM44 570h1v4h-1zM51 557h1v5h-1zM53 564h1v7h-1zM56 573h1v8h-1zM63 571h1v5h-1zM78 551h1v1h-1zM80 554h1v20h-1zM87 563h1v1h-1zM92 564h1v10h-1zM100 565h1v1h-1zM107 555h1v14h-1zM119 563h1v11h-1zM134 558h1v33h-1zM136 593h1v8h-1zM138 603h1v4h-1zM141 609h1v1h-1zM153 578h1v3h-1zM155 583h1v26h-1zM165 585h1v3h-1zM168 590h1v17h-1zM170 609h1v13h-1zM175 623h1v4h-1zM182 625h1v23h-1zM194 629h1v5h-1zM209 602h1v3h-1zM211 607h1v2h-1zM216 610h1v10h-1zM223 618h1v6h-1zM226 626h1v14h-1zM228 642h1v13h-1zM231 657h1v5h-1zM236 653h1v8h-1zM250 643h1v6h-1zM258 650h1v7h-1zM260 659h1v1h-1zM267 657h1v4h-1zM289 605h1v2h-1zM292 609h1v8h-1zM294 619h1v10h-1zM306 589h1v8h-1zM309 599h1v19h-1zM313 610h1v1h-1zM316 613h1v1h-1zM321 618h1v2h-1zM333 579h1v7h-1zM335 588h1v15h-1zM338 605h1v7h-1zM340 614h1v9h-1zM352 618h1v12h-1zM360 630h1v12h-1zM362 644h1v17h-1zM364 663h1v7h-1zM377 665h1v3h-1zM381 667h1v1h-1zM384 670h1v13h-1zM406 620h1v10h-1zM413 631h1v2h-1zM418 634h1v7h-1zM420 643h1v3h-1zM423 648h1v1h-1zM430 630h1v5h-1zM437 606h1v5h-1zM440 613h1v2h-1zM442 617h1v6h-1zM445 625h1v24h-1zM449 653h1v2h-1zM452 657h1v3h-1zM471 636h1v16h-1zM481 630h1v10h-1zM483 642h1v8h-1zM488 653h1v2h-1zM491 657h1v3h-1zM493 662h1v9h-1zM496 673h1v1h-1zM508 655h1v5h-1zM520 649h1v5h-1zM530 644h1v7h-1zM532 653h1v4h-1zM539 649h1v7h-1zM542 658h1v1h-1zM556 634h1v9h-1zM569 632h1v5h-1zM573 640h1v6h-1zM576 648h1v3h-1zM578 653h1v18h-1zM581 673h1v2h-1zM588 667h1v3h-1zM590 672h1v6h-1zM598 676h1v6h-1zM603 679h1v2h-1zM610 680h1v14h-1zM615 697h1v7h-1zM617 706h1v7h-1zM624 705h1v5h-1zM639 701h1v2h-1zM651 684h1v2h-1zM658 681h1v8h-1zM661 691h1v6h-1zM666 698h1v5h-1zM668 705h1v5h-1zM671 712h1v6h-1zM695 676h1v6h-1zM697 684h1v3h-1zM702 675h1v3h-1zM705 680h1v8h-1zM709 688h1v10h-1zM722 671h1v4h-1zM731 661h1v12h-1zM734 675h1v6h-1zM739 680h1v9h-1zM741 691h1v5h-1zM744 698h1v8h-1zM748 709h1v10h-1zM751 721h1v8h-1zM753 731h1v12h-1zM756 745h1v6h-1zM765 739h1v1h-1zM768 742h1v7h-1zM773 739h1v10h-1zM780 743h1v3h-1zM787 745h1v2h-1zM792 751h1v1h-1zM797 746h1v5h-1zM799 753h1v2h-1zM802 757h1v1h-1zM819 716h1v4h-1zM831 717h1v7h-1zM833 726h1v5h-1zM836 733h1v3h-1zM838 738h1v10h-1zM846 739h1v10h-1zM853 750h1v2h-1zM855 754h1v8h-1zM865 748h1v1h-1zM867 751h1v3h-1zM877 743h1v1h-1zM880 746h1v2h-1zM892 719h1v2h-1zM897 720h1v9h-1zM899 731h1v2h-1zM914 706h1v5h-1zM923 710h1v7h-1zM926 719h1v5h-1zM928 726h1v2h-1zM933 731h1v8h-1zM943 731h1v3h-1zM945 736h1v3h-1zM955 742h1v1h-1zM960 740h1v5h-1zM969 724h1v3h-1zM972 729h1v2h-1zM974 733h1v2h-1zM984 709h1v4h-1zM989 714h1v7h-1zM1018 678h1v1h-1zM1021 681h1v7h-1zM1023 690h1v9h-1zM1025 701h1v16h-1zM1028 719h1v4h-1zM1035 708h1v5h-1zM1042 706h1v7h-1zM1047 713h1v4h-1zM1050 719h1v3h-1zM1057 724h1v6h-1zM1059 732h1v10h-1zM1064 746h1v9h-1zM1067 757h1v6h-1zM1079 753h1v3h-1zM1081 758h1v12h-1zM1093 756h1v2h-1zM1098 759h1v13h-1zM1103 776h1v6h-1zM1108 783h1v6h-1zM1110 791h1v4h-1zM1113 797h1v8h-1zM1118 805h1v10h-1zM1120 817h1v5h-1zM1130 781h1v6h-1zM1132 789h1v4h-1zM1135 795h1v23h-1zM1137 820h1v3h-1zM1140 825h1v41h-1zM1142 868h1v44h-1zM1144 914h1v12h-1zM1147 928h1v32h-1zM1149 962h1v70h-1zM1169 910h1v3h-1zM1171 915h1v18h-1zM1174 935h1v8h-1zM1176 945h1v17h-1zM1198 839h1v30h-1zM1205 862h1v18h-1zM1208 882h1v1h-1zM1225 807h1v10h-1zM1227 819h1v23h-1zM1234 842h1v5h-1zM1242 815h1v5h-1zM1244 822h1v5h-1zM1247 829h1v4h-1zM1249 835h1v8h-1zM1261 796h1v5h-1zM1264 803h1v9h-1zM1271 780h1v5h-1zM1290 676h1v14h-1zM1295 683h1v20h-1zM1298 705h1v15h-1zM1305 705h1v7h-1zM1310 713h1v4h-1zM1312 719h1v6h-1zM1319 700h1v14h-1zM1324 714h1v3h-1zM1339 689h1v4h-1zM1346 682h1v2h-1zM1349 686h1v15h-1zM1358 679h1v7h-1zM1370 640h1v10h-1zM1385 628h1v9h-1zM1387 639h1v4h-1zM1397 616h1v13h-1zM1400 631h1v7h-1zM1404 636h1v1h-1zM1417 613h1v10h-1zM1421 626h1v11h-1zM1438 575h1v3h-1zM1441 580h1v11h-1zM1443 593h1v10h-1zM1448 605h1v11h-1zM1463 596h1v1h-1zM1468 592h1v5h-1zM1470 599h1v1h-1zM1472 602h1v14h-1zM1475 618h1v12h-1zM1477 632h1v22h-1zM1480 656h1v8h-1zM1482 666h1v3h-1zM1494 629h1v7h-1zM1499 635h1v13h-1zM1509 613h1v16h-1zM1511 631h1v1h-1zM1514 634h1v5h-1zM1516 641h1v16h-1zM1521 658h1v6h-1zM1533 644h1v1h-1zM1538 645h1v17h-1zM1541 664h1v5h-1zM1543 671h1v2h-1zM1553 603h1v1h-1zM1562 601h1v11h-1zM1572 591h1v2h-1zM1575 595h1v5h-1zM1592 574h1v6h-1zM1601 559h1v1h-1zM1604 562h1v3h-1zM1609 565h1v1h-1zM1628 506h1v8h-1zM1630 516h1v8h-1zM1655 484h1v7h-1zM1662 452h1v15h-1zM1664 469h1v13h-1zM1669 465h1v6h-1zM1677 463h1v23h-1zM1689 467h1v11h-1zM1694 472h1v19h-1zM1698 491h1v6h-1zM1701 499h1v3h-1zM1703 504h1v3h-1zM1711 509h1v1h-1zM1723 472h1v1h-1zM1730 463h1v3h-1zM1745 409h1v17h-1zM1747 428h1v1h-1zM1750 431h1v48h-1zM1757 451h1v22h-1zM1762 476h1v20h-1zM1774 460h1v9h-1zM1784 457h1v9h-1zM1788 470h1v3h-1zM1791 475h1v31h-1zM1793 508h1v7h-1zM1803 503h1v8h-1zM1818 494h1v11h-1zM1822 498h1v5h-1zM1835 472h1v5h-1zM1839 464h1v2h-1zM1844 470h1v11h-1zM1849 457h1v1h-1zM1856 459h1v4h-1zM1859 465h1v12h-1zM1864 466h1v13h-1zM1873 439h1v4h-1zM1876 445h1v26h-1zM1878 473h1v2h-1zM1890 458h1v15h-1zM1895 464h1v8h-1zM1903 469h1v4h-1zM1907 473h1v6h-1zM1915 467h1v26h-1zM1922 466h1v1h-1zM1927 471h1v1h-1zM1932 469h1v8h-1zM1934 479h1v7h-1zM1939 490h1v21h-1zM1941 513h1v31h-1zM1954 516h1v4h-1zM1959 515h1v13h-1zM1961 530h1v6h-1zM1963 538h1v10h-1zM1973 532h1v4h-1zM1976 538h1v20h-1zM1980 546h1v2h-1zM1983 550h1v3h-1zM1988 546h1v6h-1zM1990 554h1v4h-1zM1993 560h1v3h-1zM1995 565h1v21h-1zM2002 575h1v3h-1zM2007 575h1v2h-1zM2017 571h1v11h-1zM2029 568h1v13h-1zM2031 583h1v2h-1zM2039 576h1v9h-1zM2044 578h1v8h-1zM2046 588h1v20h-1zM2048 610h1v7h-1zM2051 619h1v23h-1zM2061 604h1v9h-1zM2078 552h1v4h-1zM2080 558h1v8h-1zM2082 568h1v9h-1zM2087 574h1v2h-1zM2095 578h1v11h-1zM2099 587h1v12h-1zM2102 601h1v2h-1zM2104 605h1v9h-1zM2114 599h1v7h-1zM2119 600h1v17h-1zM2121 619h1v10h-1zM2138 587h1v6h-1zM2150 561h1v3h-1zM2160 539h1v7h-1zM2175 528h1v8h-1zM2180 533h1v21h-1zM2182 556h1v5h-1zM2184 563h1v3h-1zM2192 564h1v13h-1zM2194 579h1v10h-1zM2197 591h1v2h-1zM2202 585h1v2h-1zM2204 589h1v12h-1zM2206 603h1v3h-1zM2211 607h1v7h-1zM2214 616h1v1h-1zM2221 623h1v13h-1zM2223 638h1v6h-1zM2231 644h1v2h-1zM2233 648h1v30h-1zM2245 633h1v4h-1zM2248 639h1v2h-1zM2250 643h1v6h-1zM2257 626h1v2h-1zM2260 630h1v16h-1zM2272 608h1v7h-1zM2284 607h1v16h-1zM2291 616h1v1h-1zM2294 619h1v14h-1zM2306 603h1v17h-1zM2308 622h1v3h-1zM2313 624h1v1h-1zM2321 619h1v19h-1zM2323 640h1v1h-1zM2328 641h1v20h-1zM2330 663h1v18h-1zM2345 644h1v11h-1zM2352 632h1v4h-1zM2357 639h1v4h-1zM2369 627h1v3h-1zM2376 616h1v17h-1zM2396 582h1v18h-1zM2406 584h1v13h-1zM2408 599h1v25h-1zM2430 538h1v2h-1zM2437 538h1v4h-1zM2447 520h1v10h-1zM2449 532h1v4h-1zM2452 538h1v11h-1zM2454 551h1v9h-1zM2462 554h1v11h-1zM2466 561h1v11h-1zM2469 574h1v5h-1zM2476 555h1v43h-1zM2479 600h1v7h-1zM2481 609h1v19h-1zM2483 630h1v17h-1zM2488 644h1v19h-1zM2498 610h1v19h-1zM2500 631h1v17h-1zM2503 650h1v19h-1zM2505 671h1v19h-1zM2508 692h1v6h-1zM2510 700h1v18h-1zM2520 674h1v15h-1zM2534 651h1v1h-1zM2549 608h1v3h-1zM2551 613h1v10h-1zM2559 618h1v14h-1zM2561 634h1v20h-1zM2564 656h1v21h-1zM2566 679h1v34h-1zM2573 670h1v17h-1zM2576 689h1v15h-1zM2583 694h1v13h-1zM2588 699h1v3h-1zM2593 703h1v3h-1zM2595 708h1v2h-1zM2600 709h1v20h-1zM2605 723h1v18h-1zM2612 722h1v30h-1zM2624 738h1v1h-1zM2653 677h1v22h-1zM2658 691h1v10h-1zM2666 684h1v4h-1zM2673 649h1v11h-1zM2675 662h1v8h-1zM2678 672h1v15h-1zM2680 689h1v11h-1zM2683 702h1v13h-1zM2685 717h1v3h-1zM2695 687h1v21h-1zM2702 711h1v6h-1zM2705 719h1v19h-1zM2709 733h1v2h-1zM2712 737h1v15h-1zM2724 714h1v39h-1zM2729 754h1v8h-1zM2739 759h1v12h-1zM2741 773h1v13h-1zM2743 788h1v30h-1zM2746 820h1v14h-1zM2748 836h1v2h-1zM2756 813h1v33h-1zM2760 820h1v1h-1zM2765 824h1v18h-1zM2768 844h1v9h-1zM2770 855h1v12h-1zM2773 869h1v15h-1zM2780 880h1v7h-1zM2782 889h1v17h-1zM2787 875h1v9h-1zM2794 858h1v15h-1zM2802 823h1v11h-1zM2804 836h1v13h-1zM2809 850h1v6h-1zM2811 858h1v1h-1zM2814 861h1v18h-1zM2824 822h1v16h-1zM2838 754h1v11h-1zM2841 767h1v6h-1zM2843 775h1v15h-1zM2853 749h1v1h-1zM2855 752h1v25h-1zM2867 736h1v27h-1zM2872 759h1v1h-1zM2882 737h1v15h-1zM2889 720h1v46h-1zM2894 764h1v6h-1zM2899 764h1v8h-1zM2918 732h1v21h-1zM2923 729h1v19h-1zM2931 707h1v3h-1zM2938 693h1v1h-1zM2948 685h1v18h-1zM2962 645h1v3h-1zM2965 650h1v14h-1zM2974 642h1v48h-1zM2977 692h1v20h-1zM2984 693h1v7h-1zM2991 685h1v3h-1zM2996 685h1v29h-1zM3003 709h1v11h-1zM3006 722h1v1h-1zM3008 725h1v13h-1zM3013 741h1v14h-1zM3028 752h1v34h-1zM3030 788h1v9h-1zM3035 794h1v4h-1zM3045 772h1v15h-1zM3052 761h1v4h-1zM3054 767h1v4h-1zM3059 767h1v1h-1zM3062 770h1v13h-1zM3069 763h1v5h-1zM3079 738h1v6h-1zM3081 746h1v20h-1zM3084 768h1v6h-1zM3086 776h1v4h-1zM3098 741h1v22h-1zM3108 756h1v1h-1zM3110 759h1v2h-1zM3113 763h1v15h-1zM3115 780h1v12h-1zM3120 786h1v2h-1zM3139 742h1v5h-1zM3144 744h1v34h-1zM3149 766h1v6h-1zM3154 771h1v16h-1zM3161 777h1v12h-1zM3166 793h1v24h-1zM3176 811h1v9h-1zM3195 750h1v6h-1zM3210 716h1v7h-1zM3212 725h1v15h-1zM3217 739h1v32h-1zM3220 773h1v1h-1zM3225 770h1v22h-1zM3239 767h1v10h-1zM3242 779h1v5h-1zM3246 765h1v3h-1zM3256 717h1v12h-1zM3259 731h1v1h-1zM3263 736h1v5h-1zM3266 743h1v13h-1zM3273 736h1v12h-1zM3276 750h1v1h-1zM3278 753h1v25h-1zM3283 760h1v28h-1zM3285 790h1v20h-1zM3295 801h1v7h-1z" fill="#ff0000"/>
<path d="M6 519h1v17h-1zM14 499h1v21h-1zM18 493h1v12h-1zM46 571h1v3h-1zM49 557h1v12h-1zM58 574h1v7h-1zM61 571h1v1h-1zM66 572h1v4h-1zM68 567h1v3h-1zM70 559h1v6h-1zM75 551h1v8h-1zM83 571h1v3h-1zM85 563h1v6h-1zM97 565h1v10h-1zM102 559h1v7h-1zM104 555h1v2h-1zM109 566h1v3h-1zM114 562h1v3h-1zM124 567h1v5h-1zM126 562h1v3h-1zM129 559h1v1h-1zM143 605h1v5h-1zM146 600h1v3h-1zM148 585h1v13h-1zM151 578h1v5h-1zM158 592h1v17h-1zM160 585h1v5h-1zM177 626h1v1h-1zM185 646h1v2h-1zM187 639h1v5h-1zM192 629h1v7h-1zM197 627h1v7h-1zM199 621h1v4h-1zM202 611h1v8h-1zM204 600h1v9h-1zM219 617h1v3h-1zM233 653h1v9h-1zM240 648h1v12h-1zM245 644h1v1h-1zM265 657h1v5h-1zM270 658h1v3h-1zM277 628h1v28h-1zM282 623h1v3h-1zM284 611h1v10h-1zM287 605h1v4h-1zM296 627h1v2h-1zM299 614h1v11h-1zM301 605h1v7h-1zM304 589h1v14h-1zM311 610h1v8h-1zM323 601h1v19h-1zM326 587h1v12h-1zM328 583h1v2h-1zM330 579h1v2h-1zM345 619h1v5h-1zM357 630h1v1h-1zM367 667h1v3h-1zM372 664h1v2h-1zM379 667h1v1h-1zM386 680h1v3h-1zM389 650h1v28h-1zM391 642h1v6h-1zM396 635h1v6h-1zM398 628h1v5h-1zM401 624h1v2h-1zM403 620h1v2h-1zM425 629h1v20h-1zM432 607h1v28h-1zM454 659h1v1h-1zM457 656h1v1h-1zM459 648h1v6h-1zM462 644h1v2h-1zM466 635h1v9h-1zM474 643h1v9h-1zM476 633h1v8h-1zM479 630h1v1h-1zM498 666h1v8h-1zM501 663h1v1h-1zM503 656h1v5h-1zM510 658h1v2h-1zM513 654h1v2h-1zM518 649h1v4h-1zM525 650h1v6h-1zM527 644h1v4h-1zM535 652h1v5h-1zM537 649h1v1h-1zM544 650h1v9h-1zM549 646h1v4h-1zM554 634h1v11h-1zM559 635h1v8h-1zM561 630h1v3h-1zM583 670h1v5h-1zM586 667h1v1h-1zM595 676h1v1h-1zM600 679h1v3h-1zM607 680h1v2h-1zM622 705h1v6h-1zM629 709h1v3h-1zM632 702h1v5h-1zM641 702h1v1h-1zM644 694h1v6h-1zM649 684h1v8h-1zM656 681h1v3h-1zM673 717h1v1h-1zM675 712h1v3h-1zM678 706h1v4h-1zM680 698h1v6h-1zM683 694h1v2h-1zM688 684h1v6h-1zM690 678h1v4h-1zM700 675h1v12h-1zM712 692h1v6h-1zM714 688h1v2h-1zM717 678h1v8h-1zM719 671h1v5h-1zM724 661h1v14h-1zM736 680h1v1h-1zM758 747h1v4h-1zM763 739h1v5h-1zM770 739h1v10h-1zM775 746h1v3h-1zM778 743h1v1h-1zM795 746h1v6h-1zM804 752h1v6h-1zM807 743h1v7h-1zM812 730h1v9h-1zM814 724h1v4h-1zM816 716h1v6h-1zM824 718h1v1h-1zM841 745h1v3h-1zM843 739h1v4h-1zM858 760h1v2h-1zM860 747h1v11h-1zM872 746h1v10h-1zM875 743h1v1h-1zM882 743h1v5h-1zM884 729h1v12h-1zM887 726h1v1h-1zM889 719h1v5h-1zM894 720h1v1h-1zM901 729h1v4h-1zM904 719h1v8h-1zM906 710h1v7h-1zM911 706h1v3h-1zM935 732h1v7h-1zM940 731h1v1h-1zM957 740h1v3h-1zM962 731h1v14h-1zM965 727h1v2h-1zM967 724h1v1h-1zM977 733h1v2h-1zM979 710h1v21h-1zM991 720h1v1h-1zM994 714h1v4h-1zM996 709h1v3h-1zM999 703h1v4h-1zM1004 700h1v2h-1zM1006 695h1v3h-1zM1008 686h1v7h-1zM1011 678h1v6h-1zM1030 721h1v2h-1zM1033 708h1v11h-1zM1038 708h1v5h-1zM1072 760h1v5h-1zM1074 752h1v6h-1zM1084 768h1v2h-1zM1086 759h1v7h-1zM1091 756h1v2h-1zM1123 797h1v25h-1zM1125 782h1v13h-1zM1152 1027h1v5h-1zM1154 1018h1v7h-1zM1157 994h1v22h-1zM1159 977h1v15h-1zM1161 957h1v18h-1zM1166 910h1v43h-1zM1178 949h1v13h-1zM1181 936h1v11h-1zM1183 912h1v22h-1zM1186 889h1v21h-1zM1188 870h1v17h-1zM1193 847h1v19h-1zM1195 839h1v6h-1zM1200 861h1v8h-1zM1210 874h1v9h-1zM1212 856h1v16h-1zM1217 833h1v19h-1zM1220 823h1v8h-1zM1222 807h1v14h-1zM1232 842h1v1h-1zM1237 823h1v24h-1zM1239 815h1v6h-1zM1251 834h1v9h-1zM1254 817h1v15h-1zM1256 803h1v12h-1zM1259 796h1v5h-1zM1266 811h1v1h-1zM1268 780h1v29h-1zM1276 764h1v19h-1zM1278 718h1v44h-1zM1281 703h1v13h-1zM1283 697h1v4h-1zM1288 676h1v18h-1zM1293 683h1v7h-1zM1300 712h1v8h-1zM1302 705h1v5h-1zM1315 698h1v27h-1zM1327 715h1v2h-1zM1332 704h1v8h-1zM1334 699h1v3h-1zM1336 689h1v8h-1zM1341 692h1v1h-1zM1344 682h1v8h-1zM1351 697h1v4h-1zM1353 681h1v14h-1zM1363 656h1v28h-1zM1366 642h1v12h-1zM1375 642h1v10h-1zM1378 638h1v2h-1zM1380 626h1v10h-1zM1390 628h1v15h-1zM1392 622h1v4h-1zM1395 616h1v4h-1zM1402 636h1v2h-1zM1407 634h1v3h-1zM1409 624h1v8h-1zM1412 619h1v3h-1zM1414 613h1v4h-1zM1424 627h1v10h-1zM1426 622h1v3h-1zM1429 616h1v4h-1zM1431 595h1v19h-1zM1434 578h1v15h-1zM1436 575h1v1h-1zM1453 604h1v10h-1zM1458 602h1v2h-1zM1460 596h1v4h-1zM1465 592h1v5h-1zM1485 652h1v17h-1zM1487 641h1v9h-1zM1490 631h1v8h-1zM1497 635h1v1h-1zM1502 635h1v13h-1zM1504 615h1v18h-1zM1524 652h1v12h-1zM1526 648h1v2h-1zM1531 644h1v1h-1zM1545 644h1v29h-1zM1548 629h1v13h-1zM1550 603h1v24h-1zM1560 601h1v2h-1zM1565 610h1v2h-1zM1567 593h1v15h-1zM1579 598h1v3h-1zM1582 592h1v4h-1zM1584 577h1v13h-1zM1589 574h1v3h-1zM1596 570h1v8h-1zM1599 559h1v9h-1zM1611 540h1v26h-1zM1613 537h1v1h-1zM1616 527h1v8h-1zM1618 522h1v3h-1zM1623 515h1v6h-1zM1626 506h1v7h-1zM1635 523h1v2h-1zM1638 514h1v7h-1zM1645 502h1v10h-1zM1647 491h1v9h-1zM1650 486h1v3h-1zM1657 456h1v35h-1zM1660 452h1v2h-1zM1667 465h1v17h-1zM1674 463h1v9h-1zM1681 478h1v9h-1zM1684 466h1v10h-1zM1691 472h1v6h-1zM1713 483h1v27h-1zM1716 472h1v9h-1zM1725 470h1v3h-1zM1728 463h1v5h-1zM1735 454h1v13h-1zM1737 430h1v22h-1zM1740 425h1v3h-1zM1742 409h1v14h-1zM1752 464h1v15h-1zM1754 451h1v11h-1zM1767 484h1v11h-1zM1769 459h1v23h-1zM1781 457h1v9h-1zM1796 512h1v3h-1zM1798 504h1v6h-1zM1805 510h1v1h-1zM1808 505h1v3h-1zM1810 499h1v4h-1zM1813 495h1v2h-1zM1820 498h1v7h-1zM1827 483h1v21h-1zM1830 471h1v10h-1zM1837 464h1v13h-1zM1847 457h1v24h-1zM1854 459h1v1h-1zM1861 466h1v11h-1zM1866 462h1v17h-1zM1869 449h1v11h-1zM1871 439h1v8h-1zM1881 467h1v8h-1zM1883 464h1v1h-1zM1886 461h1v1h-1zM1888 458h1v1h-1zM1893 464h1v9h-1zM1898 470h1v2h-1zM1910 476h1v3h-1zM1912 467h1v7h-1zM1917 486h1v7h-1zM1920 466h1v18h-1zM1929 469h1v3h-1zM1944 539h1v5h-1zM1946 531h1v6h-1zM1949 522h1v7h-1zM1951 516h1v4h-1zM1956 515h1v5h-1zM1966 542h1v6h-1zM1968 535h1v5h-1zM1971 532h1v1h-1zM1978 546h1v12h-1zM1985 546h1v7h-1zM1997 581h1v5h-1zM2000 575h1v4h-1zM2005 575h1v3h-1zM2010 576h1v1h-1zM2012 569h1v5h-1zM2019 576h1v6h-1zM2022 572h1v2h-1zM2024 567h1v3h-1zM2034 579h1v6h-1zM2036 576h1v1h-1zM2041 578h1v7h-1zM2056 616h1v25h-1zM2058 604h1v10h-1zM2065 592h1v20h-1zM2073 576h1v14h-1zM2075 552h1v22h-1zM2085 574h1v3h-1zM2097 587h1v2h-1zM2107 612h1v2h-1zM2109 606h1v4h-1zM2112 599h1v5h-1zM2116 600h1v6h-1zM2124 609h1v20h-1zM2126 604h1v3h-1zM2133 599h1v3h-1zM2136 587h1v10h-1zM2141 585h1v8h-1zM2143 579h1v4h-1zM2146 572h1v5h-1zM2148 561h1v9h-1zM2153 563h1v1h-1zM2155 542h1v19h-1zM2158 539h1v1h-1zM2165 541h1v4h-1zM2170 529h1v11h-1zM2177 533h1v3h-1zM2189 564h1v2h-1zM2199 585h1v8h-1zM2236 671h1v7h-1zM2238 656h1v13h-1zM2240 637h1v17h-1zM2243 633h1v2h-1zM2255 626h1v25h-1zM2265 626h1v21h-1zM2267 614h1v10h-1zM2270 608h1v4h-1zM2277 610h1v4h-1zM2279 606h1v2h-1zM2287 619h1v4h-1zM2289 616h1v1h-1zM2299 621h1v13h-1zM2301 602h1v17h-1zM2311 624h1v1h-1zM2316 623h1v2h-1zM2318 619h1v2h-1zM2333 670h1v11h-1zM2335 652h1v16h-1zM2338 647h1v3h-1zM2340 643h1v2h-1zM2347 637h1v18h-1zM2350 632h1v3h-1zM2359 639h1v4h-1zM2362 628h1v9h-1zM2372 620h1v10h-1zM2374 616h1v2h-1zM2379 615h1v18h-1zM2384 605h1v6h-1zM2386 595h1v8h-1zM2391 584h1v10h-1zM2398 594h1v6h-1zM2403 584h1v7h-1zM2413 582h1v40h-1zM2415 578h1v2h-1zM2418 561h1v15h-1zM2420 554h1v5h-1zM2423 542h1v10h-1zM2427 538h1v1h-1zM2432 537h1v3h-1zM2442 531h1v12h-1zM2445 520h1v9h-1zM2457 553h1v7h-1zM2464 561h1v4h-1zM2471 558h1v21h-1zM2474 555h1v1h-1zM2486 644h1v3h-1zM2493 653h1v9h-1zM2496 610h1v41h-1zM2513 708h1v10h-1zM2515 696h1v10h-1zM2517 674h1v20h-1zM2522 678h1v11h-1zM2525 667h1v9h-1zM2527 658h1v7h-1zM2530 654h1v2h-1zM2532 651h1v1h-1zM2537 628h1v24h-1zM2547 608h1v17h-1zM2556 618h1v4h-1zM2568 699h1v14h-1zM2571 670h1v27h-1zM2578 699h1v5h-1zM2581 694h1v3h-1zM2585 699h1v8h-1zM2598 709h1v1h-1zM2602 723h1v6h-1zM2607 723h1v18h-1zM2615 751h1v1h-1zM2619 746h1v4h-1zM2622 738h1v6h-1zM2627 715h1v24h-1zM2632 702h1v9h-1zM2636 698h1v1h-1zM2641 693h1v3h-1zM2644 688h1v3h-1zM2649 686h1v1h-1zM2651 677h1v7h-1zM2656 691h1v8h-1zM2661 687h1v14h-1zM2663 684h1v1h-1zM2668 657h1v31h-1zM2670 649h1v6h-1zM2688 711h1v9h-1zM2690 695h1v14h-1zM2692 687h1v6h-1zM2707 733h1v5h-1zM2714 749h1v3h-1zM2719 726h1v22h-1zM2722 714h1v10h-1zM2736 759h1v6h-1zM2751 817h1v21h-1zM2753 813h1v2h-1zM2758 820h1v26h-1zM2775 883h1v1h-1zM2777 880h1v1h-1zM2785 875h1v31h-1zM2792 858h1v28h-1zM2797 856h1v17h-1zM2799 823h1v31h-1zM2816 839h1v40h-1zM2819 832h1v5h-1zM2821 822h1v8h-1zM2826 795h1v43h-1zM2828 770h1v23h-1zM2831 764h1v4h-1zM2833 752h1v10h-1zM2845 782h1v8h-1zM2848 769h1v11h-1zM2850 749h1v18h-1zM2858 763h1v14h-1zM2860 738h1v23h-1zM2862 735h1v1h-1zM2870 759h1v4h-1zM2875 753h1v7h-1zM2877 735h1v16h-1zM2884 728h1v24h-1zM2887 720h1v6h-1zM2892 764h1v2h-1zM2896 764h1v6h-1zM2901 768h1v4h-1zM2904 765h1v1h-1zM2906 761h1v2h-1zM2911 744h1v16h-1zM2913 734h1v8h-1zM2921 729h1v24h-1zM2926 714h1v34h-1zM2928 707h1v5h-1zM2935 693h1v16h-1zM2943 690h1v3h-1zM2945 685h1v3h-1zM2950 691h1v12h-1zM2952 678h1v11h-1zM2957 649h1v28h-1zM2960 645h1v2h-1zM2969 643h1v20h-1zM2979 692h1v20h-1zM2989 685h1v17h-1zM2994 685h1v3h-1zM3001 709h1v7h-1zM3018 752h1v1h-1zM3023 750h1v1h-1zM3033 794h1v3h-1zM3037 774h1v24h-1zM3040 771h1v1h-1zM3047 769h1v18h-1zM3050 761h1v6h-1zM3057 767h1v4h-1zM3064 776h1v7h-1zM3067 763h1v11h-1zM3071 765h1v3h-1zM3074 742h1v21h-1zM3076 738h1v2h-1zM3088 775h1v5h-1zM3091 768h1v5h-1zM3093 743h1v23h-1zM3101 761h1v2h-1zM3105 756h1v4h-1zM3118 786h1v6h-1zM3122 782h1v6h-1zM3127 776h1v3h-1zM3130 766h1v8h-1zM3132 757h1v7h-1zM3135 743h1v12h-1zM3142 744h1v3h-1zM3147 766h1v12h-1zM3152 771h1v1h-1zM3156 779h1v8h-1zM3169 814h1v3h-1zM3171 810h1v2h-1zM3178 802h1v18h-1zM3181 793h1v7h-1zM3186 780h1v9h-1zM3188 774h1v4h-1zM3191 757h1v15h-1zM3193 750h1v5h-1zM3198 755h1v1h-1zM3200 741h1v12h-1zM3203 718h1v21h-1zM3205 715h1v1h-1zM3215 739h1v1h-1zM3222 770h1v4h-1zM3227 783h1v9h-1zM3232 777h1v3h-1zM3234 768h1v7h-1zM3244 765h1v19h-1zM3249 758h1v10h-1zM3251 715h1v41h-1zM3268 742h1v14h-1zM3271 736h1v4h-1zM3280 760h1v15h-1zM3288 807h1v1h-1zM3290 802h1v3h-1z" fill="#00e01e"/>
</g>
<path d="M1 809.5H3309" stroke="#ff0000" stroke-width="1" stroke-dasharray="2 1" fill="none" shape-rendering="crispEdges"/>
<circle cx="2664.4" cy="664.3" r="7.7" fill="#2196f3"/>
<text x="2664.6" y="668.0" font-size="10.5" font-weight="bold" fill="#fff" stroke="#fff" stroke-width="0.3" text-anchor="middle">P</text>
<circle cx="3284.5" cy="740" r="7.7" fill="#2196f3"/>
<text x="3284.7" y="743.7" font-size="10.5" font-weight="bold" fill="#fff" stroke="#fff" stroke-width="0.3" text-anchor="middle">P</text>
<path d="M3309.5 3V1161M2 1160.5H3310" stroke="#4f4f4f" stroke-width="1" fill="none" shape-rendering="crispEdges"/>
<path d="M3310 1121.5h3M3310 1078.5h3M3310 1036.5h3M3310 993.5h3M3310 951.5h3M3310 908.5h3M3310 866.5h3M3310 823.5h3M3310 781.5h3M3310 738.5h3M3310 696.5h3M3310 653.5h3M3310 611.5h3M3310 568.5h3M3310 526.5h3M3310 483.5h3M3310 441.5h3M3310 398.5h3M3310 356.5h3M3310 313.5h3M3310 271.5h3M3310 228.5h3M3310 186.5h3M3310 143.5h3M3310 100.5h3M3310 58.5h3M3310 15.5h3M63.5 1161v3M173.5 1161v3M277.5 1161v3M381.5 1161v3M486.5 1161v3M590.5 1161v3M695.5 1161v3M804.5 1161v3M911.5 1161v3M1015.5 1161v3M1120.5 1161v3M1227.5 1161v3M1331.5 1161v3M1438.5 1161v3M1545.5 1161v3M1652.5 1161v3M1751.5 1161v3M1860.5 1161v3M1965.5 1161v3M2072.5 1161v3M2176.5 1161v3M2285.5 1161v3M2385.5 1161v3M2492.5 1161v3M2599.5 1161v3M2706.5 1161v3M2810.5 1161v3M2917.5 1161v3M3019.5 1161v3M3123.5 1161v3M3233.5 1161v3" stroke="#4f4f4f" stroke-width="1" fill="none" shape-rendering="crispEdges"/>
<g font-size="11" fill="#555">
<text x="3316" y="1126">-28.00%</text>
<text x="3316" y="1083">-26.00%</text>
<text x="3316" y="1041">-24.00%</text>
<text x="3316" y="998">-22.00%</text>
<text x="3316" y="956">-20.00%</text>
<text x="3316" y="913">-18.00%</text>
<text x="3316" y="871">-16.00%</text>
<text x="3316" y="828">-14.00%</text>
<text x="3316" y="786">-12.00%</text>
<text x="3316" y="743">-10.00%</text>
<text x="3316" y="701">-8.00%</text>
<text x="3316" y="658">-6.00%</text>
<text x="3316" y="616">-4.00%</text>
<text x="3316" y="573">-2.00%</text>
<text x="3316" y="531">0.00%</text>
<text x="3316" y="488">2.00%</text>
<text x="3316" y="446">4.00%</text>
<text x="3316" y="403">6.00%</text>
<text x="3316" y="361">8.00%</text>
<text x="3316" y="318">10.00%</text>
<text x="3316" y="276">12.00%</text>
<text x="3316" y="233">14.00%</text>
<text x="3316" y="191">16.00%</text>
<text x="3316" y="148">18.00%</text>
<text x="3316" y="105">20.00%</text>
<text x="3316" y="63">22.00%</text>
<text x="3316" y="20">24.00%</text>
</g>
<g font-size="11" fill="#555" text-anchor="middle">
<text x="63.1" y="1174.7">Jul</text>
<text x="173.3" y="1174.7">Sep</text>
<text x="277.2" y="1174.7">Nov</text>
<text x="381.5" y="1174.7" font-weight="bold">2019</text>
<text x="486.1" y="1174.7">Mar</text>
<text x="590" y="1174.7">May</text>
<text x="694.9" y="1174.7">Jul</text>
<text x="804.2" y="1174.7">Sep</text>
<text x="911" y="1174.7">Nov</text>
<text x="1015.2" y="1174.7" font-weight="bold">2020</text>
<text x="1120.2" y="1174.7">Mar</text>
<text x="1227.1" y="1174.7">May</text>
<text x="1331" y="1174.7">Jul</text>
<text x="1437.9" y="1174.7">Sep</text>
<text x="1545.2" y="1174.7">Nov</text>
<text x="1652.1" y="1174.7" font-weight="bold">2021</text>
<text x="1751" y="1174.7">Mar</text>
<text x="1860.2" y="1174.7">May</text>
<text x="1965.1" y="1174.7">Jul</text>
<text x="2072" y="1174.7">Sep</text>
<text x="2176" y="1174.7">Nov</text>
<text x="2284.9" y="1174.7" font-weight="bold">2022</text>
<text x="2385.2" y="1174.7">Mar</text>
<text x="2492.1" y="1174.7">May</text>
<text x="2599.2" y="1174.7">Jul</text>
<text x="2706.1" y="1174.7">Sep</text>
<text x="2810" y="1174.7">Nov</text>
<text x="2916.9" y="1174.7" font-weight="bold">2023</text>
<text x="3018.9" y="1174.7">Mar</text>
<text x="3123.2" y="1174.7">May</text>
<text x="3233.1" y="1174.7">Jul</text>
<text x="3304.5" y="1174.7">1</text>
</g>
<rect x="3309" y="229" width="49" height="16" fill="#800030"/>
<path d="M3309 236.5h4" stroke="#fff" stroke-width="1" opacity=".9"/>
<text x="3316" y="241" font-size="11" font-weight="bold" fill="#fff">13.61%</text>
<rect x="3309" y="690" width="46" height="16" fill="#800080"/>
<path d="M3309 697.5h4" stroke="#fff" stroke-width="1" opacity=".9"/>
<text x="3316" y="702" font-size="11" font-weight="bold" fill="#fff">-8.06%</text>
<rect x="3309" y="802" width="52" height="16" fill="#ff0000"/>
<path d="M3309 809.5h4" stroke="#fff" stroke-width="1" opacity=".9"/>
<text x="3316" y="814" font-size="11" font-weight="bold" fill="#fff">-13.32%</text>
<rect x="7.5" y="15.5" width="12" height="12" rx="1.2" fill="#fff" stroke="#666" stroke-width="1"/>
<path d="M10 21.5h7" stroke="#555" stroke-width="1"/>
<text x="26.5" y="28" font-size="17.2" fill="#4a4a4a" stroke="#4a4a4a" stroke-width="0.25" textLength="261.5" lengthAdjust="spacingAndGlyphs">AUD/USD, D, Real-time Currencies</text>
<path d="M293 20.5h7.4l-3.7 3.6z" fill="#c4c4c4"/>
<rect x="311" y="15.2" width="13.8" height="13.8" fill="#d8d8d8"/>
<ellipse cx="317.9" cy="22.2" rx="4.2" ry="3.2" fill="none" stroke="#fff" stroke-width="1.9"/>
<circle cx="317.9" cy="22.2" r="1.3" fill="#fff"/>
<rect x="328" y="15.2" width="13.8" height="13.8" fill="#d8d8d8"/>
<circle cx="334.9" cy="22.2" r="3" fill="none" stroke="#fff" stroke-width="2.2"/>
<rect x="333.75" y="16.8" width="2.3" height="2.2" fill="#fff" transform="rotate(0 334.9 22.2)"/>
<rect x="333.75" y="16.8" width="2.3" height="2.2" fill="#fff" transform="rotate(45 334.9 22.2)"/>
<rect x="333.75" y="16.8" width="2.3" height="2.2" fill="#fff" transform="rotate(90 334.9 22.2)"/>
<rect x="333.75" y="16.8" width="2.3" height="2.2" fill="#fff" transform="rotate(135 334.9 22.2)"/>
<rect x="333.75" y="16.8" width="2.3" height="2.2" fill="#fff" transform="rotate(180 334.9 22.2)"/>
<rect x="333.75" y="16.8" width="2.3" height="2.2" fill="#fff" transform="rotate(225 334.9 22.2)"/>
<rect x="333.75" y="16.8" width="2.3" height="2.2" fill="#fff" transform="rotate(270 334.9 22.2)"/>
<rect x="333.75" y="16.8" width="2.3" height="2.2" fill="#fff" transform="rotate(315 334.9 22.2)"/>
<text x="349.7" y="28" font-size="14.6" textLength="55.3" lengthAdjust="spacingAndGlyphs"><tspan fill="#555">O</tspan><tspan fill="#6b2a22">0.6573</tspan></text>
<text x="415.8" y="28" font-size="14.6" textLength="54.6" lengthAdjust="spacingAndGlyphs"><tspan fill="#555">H</tspan><tspan fill="#6b2a22">0.6576</tspan></text>
<text x="481.4" y="28" font-size="14.6" textLength="52.4" lengthAdjust="spacingAndGlyphs"><tspan fill="#555">L</tspan><tspan fill="#6b2a22">0.6496</tspan></text>
<text x="544" y="28" font-size="14.6" textLength="54.1" lengthAdjust="spacingAndGlyphs"><tspan fill="#555">C</tspan><tspan fill="#6b2a22">0.6542</tspan></text>
<text x="7" y="47" font-size="12.6" fill="#555" stroke="#555" stroke-width="0.15" textLength="183" lengthAdjust="spacingAndGlyphs">AUD/EUR, REAL-TIME CURRENCIES</text>
<path d="M194.4 41.3h6.8l-3.4 3.4z" fill="#c4c4c4"/>
<rect x="212" y="36" width="13.8" height="13.8" fill="#d8d8d8"/>
<ellipse cx="218.9" cy="43.0" rx="4.2" ry="3.2" fill="none" stroke="#fff" stroke-width="1.9"/>
<circle cx="218.9" cy="43.0" r="1.3" fill="#fff"/>
<rect x="229.2" y="36" width="13.8" height="13.8" fill="#d8d8d8"/>
<circle cx="236.1" cy="43.0" r="3" fill="none" stroke="#fff" stroke-width="2.2"/>
<rect x="234.95" y="37.6" width="2.3" height="2.2" fill="#fff" transform="rotate(0 236.1 43.0)"/>
<rect x="234.95" y="37.6" width="2.3" height="2.2" fill="#fff" transform="rotate(45 236.1 43.0)"/>
<rect x="234.95" y="37.6" width="2.3" height="2.2" fill="#fff" transform="rotate(90 236.1 43.0)"/>
<rect x="234.95" y="37.6" width="2.3" height="2.2" fill="#fff" transform="rotate(135 236.1 43.0)"/>
<rect x="234.95" y="37.6" width="2.3" height="2.2" fill="#fff" transform="rotate(180 236.1 43.0)"/>
<rect x="234.95" y="37.6" width="2.3" height="2.2" fill="#fff" transform="rotate(225 236.1 43.0)"/>
<rect x="234.95" y="37.6" width="2.3" height="2.2" fill="#fff" transform="rotate(270 236.1 43.0)"/>
<rect x="234.95" y="37.6" width="2.3" height="2.2" fill="#fff" transform="rotate(315 236.1 43.0)"/>
<rect x="246.2" y="36" width="13.8" height="13.8" fill="#d8d8d8"/>
<path d="M248.4 38.3l9.4 9.4m0 -9.4l-9.4 9.4" stroke="#fff" stroke-width="1.9" fill="none"/>
<text x="268.7" y="47.2" font-size="12" fill="#8a1a9a" textLength="22.6" lengthAdjust="spacingAndGlyphs">0.60</text>
<text x="7" y="67" font-size="12.6" fill="#555" stroke="#555" stroke-width="0.15" textLength="179.3" lengthAdjust="spacingAndGlyphs">AUD/JPY, REAL-TIME CURRENCIES</text>
<path d="M190.7 61.3h6.8l-3.4 3.4z" fill="#c4c4c4"/>
<rect x="208" y="56.1" width="13.8" height="13.8" fill="#d8d8d8"/>
<ellipse cx="214.9" cy="63.1" rx="4.2" ry="3.2" fill="none" stroke="#fff" stroke-width="1.9"/>
<circle cx="214.9" cy="63.1" r="1.3" fill="#fff"/>
<rect x="225.1" y="56.1" width="13.8" height="13.8" fill="#d8d8d8"/>
<circle cx="232.0" cy="63.1" r="3" fill="none" stroke="#fff" stroke-width="2.2"/>
<rect x="230.85" y="57.7" width="2.3" height="2.2" fill="#fff" transform="rotate(0 232.0 63.1)"/>
<rect x="230.85" y="57.7" width="2.3" height="2.2" fill="#fff" transform="rotate(45 232.0 63.1)"/>
<rect x="230.85" y="57.7" width="2.3" height="2.2" fill="#fff" transform="rotate(90 232.0 63.1)"/>
<rect x="230.85" y="57.7" width="2.3" height="2.2" fill="#fff" transform="rotate(135 232.0 63.1)"/>
<rect x="230.85" y="57.7" width="2.3" height="2.2" fill="#fff" transform="rotate(180 232.0 63.1)"/>
<rect x="230.85" y="57.7" width="2.3" height="2.2" fill="#fff" transform="rotate(225 232.0 63.1)"/>
<rect x="230.85" y="57.7" width="2.3" height="2.2" fill="#fff" transform="rotate(270 232.0 63.1)"/>
<rect x="230.85" y="57.7" width="2.3" height="2.2" fill="#fff" transform="rotate(315 232.0 63.1)"/>
<rect x="242.1" y="56.1" width="13.8" height="13.8" fill="#d8d8d8"/>
<path d="M244.3 58.4l9.4 9.4m0 -9.4l-9.4 9.4" stroke="#fff" stroke-width="1.9" fill="none"/>
<text x="265.2" y="67.2" font-size="12" fill="#8a1038" textLength="28" lengthAdjust="spacingAndGlyphs">93.81</text>
<text x="15" y="1143" font-size="22" font-weight="bold" fill="#000" textLength="89.7" lengthAdjust="spacingAndGlyphs" stroke="#000" stroke-width="0.7">Investing</text>
<rect x="74.3" y="1125" width="5.2" height="5.5" fill="#fff"/>
<ellipse cx="77.3" cy="1128" rx="2.7" ry="1.8" fill="#ffa000" transform="rotate(-28 77.3 1128)"/>
<text x="105.6" y="1143" font-size="16" fill="#6e6e6e" textLength="28.2" lengthAdjust="spacingAndGlyphs">.com</text>
</svg>
</body></html>
